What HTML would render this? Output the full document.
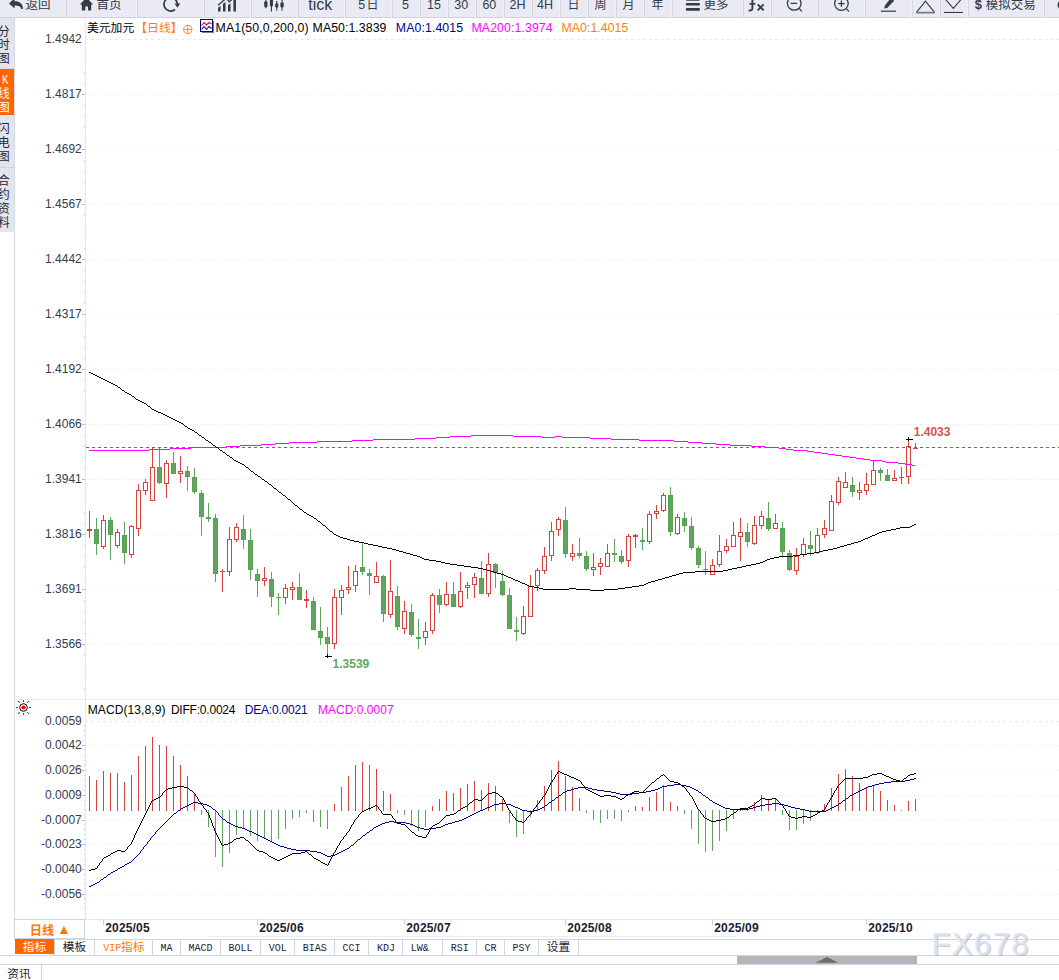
<!DOCTYPE html>
<html><head><meta charset="utf-8"><title>USDCAD</title><style>html,body{margin:0;padding:0;background:#fff}</style></head><body>
<svg width="1059" height="980" viewBox="0 0 1059 980" style="display:block">
<rect x="0" y="0" width="1059" height="980" fill="#fff" />
<g shape-rendering="crispEdges">
<rect x="0" y="0" width="1059" height="17" fill="#e9eaf4" />
<rect x="0" y="17" width="1059" height="1" fill="#d0d1db" />
<rect x="65" y="0" width="1" height="18" fill="#f0f1f7" />
<rect x="66" y="0" width="1" height="17" fill="#d4d5de" />
<rect x="136" y="0" width="1" height="18" fill="#f0f1f7" />
<rect x="137" y="0" width="1" height="17" fill="#d4d5de" />
<rect x="203" y="0" width="1" height="18" fill="#f0f1f7" />
<rect x="204" y="0" width="1" height="17" fill="#d4d5de" />
<rect x="250" y="0" width="1" height="18" fill="#f0f1f7" />
<rect x="251" y="0" width="1" height="17" fill="#d4d5de" />
<rect x="297" y="0" width="1" height="18" fill="#f0f1f7" />
<rect x="298" y="0" width="1" height="17" fill="#d4d5de" />
<rect x="344" y="0" width="1" height="18" fill="#f0f1f7" />
<rect x="345" y="0" width="1" height="17" fill="#d4d5de" />
<rect x="391" y="0" width="1" height="18" fill="#f0f1f7" />
<rect x="392" y="0" width="1" height="17" fill="#d4d5de" />
<rect x="419" y="0" width="1" height="18" fill="#f0f1f7" />
<rect x="420" y="0" width="1" height="17" fill="#d4d5de" />
<rect x="447" y="0" width="1" height="18" fill="#f0f1f7" />
<rect x="448" y="0" width="1" height="17" fill="#d4d5de" />
<rect x="475" y="0" width="1" height="18" fill="#f0f1f7" />
<rect x="476" y="0" width="1" height="17" fill="#d4d5de" />
<rect x="503" y="0" width="1" height="18" fill="#f0f1f7" />
<rect x="504" y="0" width="1" height="17" fill="#d4d5de" />
<rect x="531" y="0" width="1" height="18" fill="#f0f1f7" />
<rect x="532" y="0" width="1" height="17" fill="#d4d5de" />
<rect x="559" y="0" width="1" height="18" fill="#f0f1f7" />
<rect x="560" y="0" width="1" height="17" fill="#d4d5de" />
<rect x="587" y="0" width="1" height="18" fill="#f0f1f7" />
<rect x="588" y="0" width="1" height="17" fill="#d4d5de" />
<rect x="615" y="0" width="1" height="18" fill="#f0f1f7" />
<rect x="616" y="0" width="1" height="17" fill="#d4d5de" />
<rect x="643" y="0" width="1" height="18" fill="#f0f1f7" />
<rect x="644" y="0" width="1" height="17" fill="#d4d5de" />
<rect x="671" y="0" width="1" height="18" fill="#f0f1f7" />
<rect x="672" y="0" width="1" height="17" fill="#d4d5de" />
<rect x="742" y="0" width="1" height="18" fill="#f0f1f7" />
<rect x="743" y="0" width="1" height="17" fill="#d4d5de" />
<rect x="770" y="0" width="1" height="18" fill="#f0f1f7" />
<rect x="771" y="0" width="1" height="17" fill="#d4d5de" />
<rect x="817" y="0" width="1" height="18" fill="#f0f1f7" />
<rect x="818" y="0" width="1" height="17" fill="#d4d5de" />
<rect x="864" y="0" width="1" height="18" fill="#f0f1f7" />
<rect x="865" y="0" width="1" height="17" fill="#d4d5de" />
<rect x="911" y="0" width="1" height="18" fill="#f0f1f7" />
<rect x="912" y="0" width="1" height="17" fill="#d4d5de" />
<rect x="939" y="0" width="1" height="18" fill="#f0f1f7" />
<rect x="940" y="0" width="1" height="17" fill="#d4d5de" />
<rect x="967" y="0" width="1" height="18" fill="#f0f1f7" />
<rect x="968" y="0" width="1" height="17" fill="#d4d5de" />
<rect x="1043" y="0" width="1" height="18" fill="#f0f1f7" />
<rect x="1044" y="0" width="1" height="17" fill="#d4d5de" />
</g>
<g>
<path d="M9,3.4 L14.6,-1.8 L14.6,1.3 C19.8,1.3 23,4 22.9,9 L21.2,9 C20.8,6.4 18.8,5.4 14.6,5.4 L14.6,8.4 Z" fill="#333c46"/>
<text x="25.4" y="8.8" font-family="'Liberation Sans', 'Noto Sans CJK SC', sans-serif" font-size="12.5" fill="#333c46">返回</text>
<path d="M79.8,4.4 L86.5,-2.4 L93.2,4.4 L91.2,4.4 L91.2,10.6 L88,10.6 L88,6.6 L85.3,6.6 L85.3,10.6 L81.8,10.6 L81.8,4.4 Z" fill="#333c46"/>
<text x="96.5" y="8.8" font-family="'Liberation Sans', 'Noto Sans CJK SC', sans-serif" font-size="12.5" fill="#333c46">首页</text>
<path d="M175.0,9.5 A6.7,6.7 0 1 1 177.4,4.4" fill="none" stroke="#333c46" stroke-width="1.7"/>
<path d="M174.6,3.6 L180.2,3.6 L177.4,7.8 Z" fill="#333c46"/>
<path d="M218,7.8 L220.5,5.8 L220.5,11.5 L218,11.5 Z M223,3.8 L225.5,2 L225.5,11.5 L223,11.5 Z M228,5.2 L230.5,3.2 L230.5,11.5 L228,11.5 Z M233.4,0 L236,-1 L236,11.5 L233.4,11.5 Z" fill="#333c46"/>
<path d="M218,5.2 L226.5,-2 L229.2,1.8 L235,-3" fill="none" stroke="#333c46" stroke-width="1.3"/>
<g fill="#333c46"><rect x="264.2" y="1.2" width="3.3" height="6" rx="1.2"/><rect x="265.3" y="0" width="1.1" height="8.2"/><rect x="269.9" y="-3" width="3.1" height="9.2" rx="0.6"/><rect x="270.9" y="-3" width="1.1" height="14.6"/><rect x="275.2" y="3.4" width="3.1" height="4.2" rx="0.8"/><rect x="276.2" y="1" width="1.1" height="9.7"/><rect x="280.4" y="2.6" width="3.3" height="4.8" rx="0.8"/><rect x="281.5" y="-1" width="1.1" height="11.7"/></g>
<text x="308.3" y="9.5" font-family="'Liberation Sans', sans-serif" font-size="16" fill="#333c46">tick</text>
<text x="358.3" y="8.5" font-family="'Liberation Sans', 'Noto Sans CJK SC', sans-serif" font-size="12.5" fill="#333c46">5</text>
<text x="366.4" y="8.6" font-family="'Liberation Sans', 'Noto Sans CJK SC', sans-serif" font-size="12" fill="#333c46">日</text>
<text x="402" y="8.5" font-family="'Liberation Sans', sans-serif" font-size="12.5" fill="#333c46">5</text>
<text x="427.1" y="8.5" font-family="'Liberation Sans', sans-serif" font-size="12.5" fill="#333c46">15</text>
<text x="454.3" y="8.5" font-family="'Liberation Sans', sans-serif" font-size="12.5" fill="#333c46">30</text>
<text x="482.4" y="8.5" font-family="'Liberation Sans', sans-serif" font-size="12.5" fill="#333c46">60</text>
<text x="509.6" y="8.5" font-family="'Liberation Sans', sans-serif" font-size="12.5" fill="#333c46">2H</text>
<text x="537" y="8.5" font-family="'Liberation Sans', sans-serif" font-size="12.5" fill="#333c46">4H</text>
<text x="567.4" y="8.6" font-family="'Liberation Sans', 'Noto Sans CJK SC', sans-serif" font-size="12" fill="#333c46">日</text>
<text x="594.6" y="8.8" font-family="'Liberation Sans', 'Noto Sans CJK SC', sans-serif" font-size="12" fill="#333c46">周</text>
<text x="622.4" y="8.8" font-family="'Liberation Sans', 'Noto Sans CJK SC', sans-serif" font-size="12" fill="#333c46">月</text>
<text x="651.4" y="8.8" font-family="'Liberation Sans', 'Noto Sans CJK SC', sans-serif" font-size="12" fill="#333c46">年</text>
<g fill="#333c46"><rect x="685.8" y="-2" width="14.2" height="2.8" rx="1.3"/><rect x="685.8" y="3" width="14.2" height="2.6" rx="1.3"/><rect x="685.8" y="8" width="14.2" height="2.7" rx="1.3"/></g>
<text x="703.6" y="8.8" font-family="'Liberation Sans', 'Noto Sans CJK SC', sans-serif" font-size="12.5" fill="#333c46">更多</text>
<path d="M755.6,-1.2 C753.2,-1.6 752.4,-0.6 752.4,1 L752.4,8.4 C752.4,10 751.2,10.8 748.6,10.4 M749.6,3.9 L755.4,3.9" fill="none" stroke="#333c46" stroke-width="1.9"/>
<path d="M757.7,4.4 L763.6,10.3 M763.6,4.4 L757.7,10.3" fill="none" stroke="#333c46" stroke-width="1.9"/>
<g fill="none" stroke="#333c46" stroke-width="1.3"><circle cx="794.2" cy="3.4" r="6.8"/><path d="M799.2,8.4 L801.8,11.4 M790.6,3.4 L797.2,3.4"/></g>
<g fill="none" stroke="#333c46" stroke-width="1.3"><circle cx="841.4" cy="3.6" r="6.8"/><path d="M846.4,8.6 L849,11.6 M838.2,3.6 L844.6,3.6 M841.4,0.4 L841.4,6.8"/></g>
<path d="M884.2,8.6 L884.9,5.6 L890.5,-1.5 L894,-1.5 L893.6,1.2 L887.2,8 Z" fill="#333c46"/>
<rect x="880.9" y="10.6" width="15" height="1.2" fill="#333c46"/>
<path d="M916.6,12.2 L925.5,1.2 L934.4,12.2" fill="none" stroke="#333c46" stroke-width="1.1"/>
<rect x="916" y="11.8" width="19" height="1.7" fill="#747a84"/>
<path d="M945.6,-0.5 L953.3,8.4 L961,-0.5" fill="none" stroke="#333c46" stroke-width="1.1"/>
<rect x="944" y="11.9" width="19" height="1.1" fill="#333c46"/>
<text x="974.8" y="9.4" font-family="'Liberation Sans', sans-serif" font-size="13" font-weight="bold" fill="#333c46">$</text>
<text x="985.7" y="8.7" font-family="'Liberation Sans', 'Noto Sans CJK SC', sans-serif" font-size="12.5" fill="#333c46">模拟交易</text>
<circle cx="1061.5" cy="5" r="4" fill="#333c46"/>
</g>
<g shape-rendering="crispEdges">
<rect x="0" y="18" width="14" height="214" fill="#e3e4ec" />
<rect x="0" y="69" width="14" height="46" fill="#ff6600" />
<rect x="0" y="167" width="14" height="1" fill="#cfd0d8" />
<rect x="0" y="68" width="14" height="1" fill="#d8d9e0" />
<rect x="14" y="18" width="1" height="921" fill="#d2dae4" />
</g>
<text x="-2.3" y="35.5" font-family="'Liberation Sans', 'Noto Sans CJK SC', sans-serif" font-size="12" fill="#232a34">分</text>
<text x="-2.3" y="49" font-family="'Liberation Sans', 'Noto Sans CJK SC', sans-serif" font-size="12" fill="#232a34">时</text>
<text x="-2.3" y="63" font-family="'Liberation Sans', 'Noto Sans CJK SC', sans-serif" font-size="12" fill="#232a34">图</text>
<text x="2.0" y="84" font-family="Liberation Mono" font-size="12" fill="#fff" textLength="6.4" lengthAdjust="spacingAndGlyphs" >K</text>
<text x="-2.3" y="98" font-family="'Liberation Sans', 'Noto Sans CJK SC', sans-serif" font-size="12" fill="#fff">线</text>
<text x="-2.3" y="112" font-family="'Liberation Sans', 'Noto Sans CJK SC', sans-serif" font-size="12" fill="#fff">图</text>
<text x="-2.3" y="133" font-family="'Liberation Sans', 'Noto Sans CJK SC', sans-serif" font-size="12" fill="#232a34">闪</text>
<text x="-2.3" y="147" font-family="'Liberation Sans', 'Noto Sans CJK SC', sans-serif" font-size="12" fill="#232a34">电</text>
<text x="-2.3" y="161" font-family="'Liberation Sans', 'Noto Sans CJK SC', sans-serif" font-size="12" fill="#232a34">图</text>
<text x="-2.3" y="184.8" font-family="'Liberation Sans', 'Noto Sans CJK SC', sans-serif" font-size="12" fill="#232a34">合</text>
<text x="-2.3" y="199.2" font-family="'Liberation Sans', 'Noto Sans CJK SC', sans-serif" font-size="12" fill="#232a34">约</text>
<text x="-2.3" y="213.3" font-family="'Liberation Sans', 'Noto Sans CJK SC', sans-serif" font-size="12" fill="#232a34">资</text>
<text x="-2.3" y="227.2" font-family="'Liberation Sans', 'Noto Sans CJK SC', sans-serif" font-size="12" fill="#232a34">料</text>
<g shape-rendering="crispEdges">
<rect x="85" y="18" width="1" height="901" fill="#e1e8ef" />
<rect x="15" y="699" width="1044" height="1" fill="#e9eef3" />
<rect x="15" y="919" width="1044" height="1" fill="#e2e8ee" />
</g>
<g shape-rendering="crispEdges">
<line x1="85" x2="1059" y1="39.5" y2="39.5" stroke="#e2ebf0" stroke-width="1" stroke-dasharray="3 3"/>
<line x1="86" x2="1059" y1="94.5" y2="94.5" stroke="#e6ecf1" stroke-width="1" stroke-dasharray="1 2"/>
<rect x="82" y="94" width="3" height="1" fill="#b4bcc6" />
<line x1="86" x2="1059" y1="149.5" y2="149.5" stroke="#e6ecf1" stroke-width="1" stroke-dasharray="1 2"/>
<rect x="82" y="149" width="3" height="1" fill="#b4bcc6" />
<line x1="86" x2="1059" y1="204.5" y2="204.5" stroke="#e6ecf1" stroke-width="1" stroke-dasharray="1 2"/>
<rect x="82" y="204" width="3" height="1" fill="#b4bcc6" />
<line x1="86" x2="1059" y1="259.5" y2="259.5" stroke="#e6ecf1" stroke-width="1" stroke-dasharray="1 2"/>
<rect x="82" y="259" width="3" height="1" fill="#b4bcc6" />
<line x1="86" x2="1059" y1="314.5" y2="314.5" stroke="#e6ecf1" stroke-width="1" stroke-dasharray="1 2"/>
<rect x="82" y="314" width="3" height="1" fill="#b4bcc6" />
<line x1="86" x2="1059" y1="369.5" y2="369.5" stroke="#e6ecf1" stroke-width="1" stroke-dasharray="1 2"/>
<rect x="82" y="369" width="3" height="1" fill="#b4bcc6" />
<line x1="86" x2="1059" y1="424.5" y2="424.5" stroke="#e6ecf1" stroke-width="1" stroke-dasharray="1 2"/>
<rect x="82" y="424" width="3" height="1" fill="#b4bcc6" />
<line x1="86" x2="1059" y1="479.5" y2="479.5" stroke="#e6ecf1" stroke-width="1" stroke-dasharray="1 2"/>
<rect x="82" y="479" width="3" height="1" fill="#b4bcc6" />
<line x1="86" x2="1059" y1="534.5" y2="534.5" stroke="#e6ecf1" stroke-width="1" stroke-dasharray="1 2"/>
<rect x="82" y="534" width="3" height="1" fill="#b4bcc6" />
<line x1="86" x2="1059" y1="589.5" y2="589.5" stroke="#e6ecf1" stroke-width="1" stroke-dasharray="1 2"/>
<rect x="82" y="589" width="3" height="1" fill="#b4bcc6" />
<line x1="86" x2="1059" y1="644.5" y2="644.5" stroke="#e6ecf1" stroke-width="1" stroke-dasharray="1 2"/>
<rect x="82" y="644" width="3" height="1" fill="#b4bcc6" />
<rect x="84" y="50" width="1" height="1" fill="#c6ced8" />
<rect x="84" y="61" width="1" height="1" fill="#c6ced8" />
<rect x="84" y="72" width="1" height="1" fill="#c6ced8" />
<rect x="84" y="83" width="1" height="1" fill="#c6ced8" />
<rect x="84" y="105" width="1" height="1" fill="#c6ced8" />
<rect x="84" y="116" width="1" height="1" fill="#c6ced8" />
<rect x="84" y="127" width="1" height="1" fill="#c6ced8" />
<rect x="84" y="138" width="1" height="1" fill="#c6ced8" />
<rect x="84" y="160" width="1" height="1" fill="#c6ced8" />
<rect x="84" y="171" width="1" height="1" fill="#c6ced8" />
<rect x="84" y="182" width="1" height="1" fill="#c6ced8" />
<rect x="84" y="193" width="1" height="1" fill="#c6ced8" />
<rect x="84" y="215" width="1" height="1" fill="#c6ced8" />
<rect x="84" y="226" width="1" height="1" fill="#c6ced8" />
<rect x="84" y="237" width="1" height="1" fill="#c6ced8" />
<rect x="84" y="248" width="1" height="1" fill="#c6ced8" />
<rect x="84" y="270" width="1" height="1" fill="#c6ced8" />
<rect x="84" y="281" width="1" height="1" fill="#c6ced8" />
<rect x="84" y="292" width="1" height="1" fill="#c6ced8" />
<rect x="84" y="303" width="1" height="1" fill="#c6ced8" />
<rect x="84" y="325" width="1" height="1" fill="#c6ced8" />
<rect x="84" y="336" width="1" height="1" fill="#c6ced8" />
<rect x="84" y="347" width="1" height="1" fill="#c6ced8" />
<rect x="84" y="358" width="1" height="1" fill="#c6ced8" />
<rect x="84" y="380" width="1" height="1" fill="#c6ced8" />
<rect x="84" y="391" width="1" height="1" fill="#c6ced8" />
<rect x="84" y="402" width="1" height="1" fill="#c6ced8" />
<rect x="84" y="413" width="1" height="1" fill="#c6ced8" />
<rect x="84" y="435" width="1" height="1" fill="#c6ced8" />
<rect x="84" y="446" width="1" height="1" fill="#c6ced8" />
<rect x="84" y="457" width="1" height="1" fill="#c6ced8" />
<rect x="84" y="468" width="1" height="1" fill="#c6ced8" />
<rect x="84" y="490" width="1" height="1" fill="#c6ced8" />
<rect x="84" y="501" width="1" height="1" fill="#c6ced8" />
<rect x="84" y="512" width="1" height="1" fill="#c6ced8" />
<rect x="84" y="523" width="1" height="1" fill="#c6ced8" />
<rect x="84" y="545" width="1" height="1" fill="#c6ced8" />
<rect x="84" y="556" width="1" height="1" fill="#c6ced8" />
<rect x="84" y="567" width="1" height="1" fill="#c6ced8" />
<rect x="84" y="578" width="1" height="1" fill="#c6ced8" />
<rect x="84" y="600" width="1" height="1" fill="#c6ced8" />
<rect x="84" y="611" width="1" height="1" fill="#c6ced8" />
<rect x="84" y="622" width="1" height="1" fill="#c6ced8" />
<rect x="84" y="633" width="1" height="1" fill="#c6ced8" />
<rect x="84" y="655" width="1" height="1" fill="#c6ced8" />
<rect x="84" y="666" width="1" height="1" fill="#c6ced8" />
<rect x="84" y="677" width="1" height="1" fill="#c6ced8" />
<rect x="84" y="688" width="1" height="1" fill="#c6ced8" />
</g>
<text x="81.8" y="43" font-family="Liberation Sans" font-size="12" fill="#343c50" text-anchor="end" >1.4942</text>
<text x="81.8" y="98" font-family="Liberation Sans" font-size="12" fill="#343c50" text-anchor="end" >1.4817</text>
<text x="81.8" y="153" font-family="Liberation Sans" font-size="12" fill="#343c50" text-anchor="end" >1.4692</text>
<text x="81.8" y="208" font-family="Liberation Sans" font-size="12" fill="#343c50" text-anchor="end" >1.4567</text>
<text x="81.8" y="263" font-family="Liberation Sans" font-size="12" fill="#343c50" text-anchor="end" >1.4442</text>
<text x="81.8" y="318" font-family="Liberation Sans" font-size="12" fill="#343c50" text-anchor="end" >1.4317</text>
<text x="81.8" y="373" font-family="Liberation Sans" font-size="12" fill="#343c50" text-anchor="end" >1.4192</text>
<text x="81.8" y="428" font-family="Liberation Sans" font-size="12" fill="#343c50" text-anchor="end" >1.4066</text>
<text x="81.8" y="483" font-family="Liberation Sans" font-size="12" fill="#343c50" text-anchor="end" >1.3941</text>
<text x="81.8" y="538" font-family="Liberation Sans" font-size="12" fill="#343c50" text-anchor="end" >1.3816</text>
<text x="81.8" y="593" font-family="Liberation Sans" font-size="12" fill="#343c50" text-anchor="end" >1.3691</text>
<text x="81.8" y="648" font-family="Liberation Sans" font-size="12" fill="#343c50" text-anchor="end" >1.3566</text>
<g shape-rendering="crispEdges">
<line x1="85" x2="1059" y1="721.5" y2="721.5" stroke="#e2ebf0" stroke-width="1" stroke-dasharray="3 3"/>
<line x1="86" x2="1059" y1="745.5" y2="745.5" stroke="#e6ecf1" stroke-width="1" stroke-dasharray="1 2"/>
<rect x="82" y="745" width="3" height="1" fill="#b4bcc6" />
<line x1="86" x2="1059" y1="770.5" y2="770.5" stroke="#e6ecf1" stroke-width="1" stroke-dasharray="1 2"/>
<rect x="82" y="770" width="3" height="1" fill="#b4bcc6" />
<line x1="86" x2="1059" y1="795.5" y2="795.5" stroke="#e6ecf1" stroke-width="1" stroke-dasharray="1 2"/>
<rect x="82" y="795" width="3" height="1" fill="#b4bcc6" />
<line x1="86" x2="1059" y1="820.5" y2="820.5" stroke="#e6ecf1" stroke-width="1" stroke-dasharray="1 2"/>
<rect x="82" y="820" width="3" height="1" fill="#b4bcc6" />
<line x1="86" x2="1059" y1="844.5" y2="844.5" stroke="#e6ecf1" stroke-width="1" stroke-dasharray="1 2"/>
<rect x="82" y="844" width="3" height="1" fill="#b4bcc6" />
<line x1="86" x2="1059" y1="869.5" y2="869.5" stroke="#e6ecf1" stroke-width="1" stroke-dasharray="1 2"/>
<rect x="82" y="869" width="3" height="1" fill="#b4bcc6" />
<line x1="86" x2="1059" y1="894.5" y2="894.5" stroke="#e6ecf1" stroke-width="1" stroke-dasharray="1 2"/>
<rect x="82" y="894" width="3" height="1" fill="#b4bcc6" />
<rect x="84" y="725" width="1" height="1" fill="#c6ced8" />
<rect x="84" y="730" width="1" height="1" fill="#c6ced8" />
<rect x="84" y="735" width="1" height="1" fill="#c6ced8" />
<rect x="84" y="740" width="1" height="1" fill="#c6ced8" />
<rect x="84" y="750" width="1" height="1" fill="#c6ced8" />
<rect x="84" y="755" width="1" height="1" fill="#c6ced8" />
<rect x="84" y="760" width="1" height="1" fill="#c6ced8" />
<rect x="84" y="765" width="1" height="1" fill="#c6ced8" />
<rect x="84" y="775" width="1" height="1" fill="#c6ced8" />
<rect x="84" y="780" width="1" height="1" fill="#c6ced8" />
<rect x="84" y="785" width="1" height="1" fill="#c6ced8" />
<rect x="84" y="790" width="1" height="1" fill="#c6ced8" />
<rect x="84" y="800" width="1" height="1" fill="#c6ced8" />
<rect x="84" y="804" width="1" height="1" fill="#c6ced8" />
<rect x="84" y="809" width="1" height="1" fill="#c6ced8" />
<rect x="84" y="814" width="1" height="1" fill="#c6ced8" />
<rect x="84" y="824" width="1" height="1" fill="#c6ced8" />
<rect x="84" y="829" width="1" height="1" fill="#c6ced8" />
<rect x="84" y="834" width="1" height="1" fill="#c6ced8" />
<rect x="84" y="839" width="1" height="1" fill="#c6ced8" />
<rect x="84" y="849" width="1" height="1" fill="#c6ced8" />
<rect x="84" y="854" width="1" height="1" fill="#c6ced8" />
<rect x="84" y="859" width="1" height="1" fill="#c6ced8" />
<rect x="84" y="864" width="1" height="1" fill="#c6ced8" />
<rect x="84" y="874" width="1" height="1" fill="#c6ced8" />
<rect x="84" y="879" width="1" height="1" fill="#c6ced8" />
<rect x="84" y="884" width="1" height="1" fill="#c6ced8" />
<rect x="84" y="888" width="1" height="1" fill="#c6ced8" />
<rect x="84" y="898" width="1" height="1" fill="#c6ced8" />
<rect x="84" y="903" width="1" height="1" fill="#c6ced8" />
<rect x="84" y="908" width="1" height="1" fill="#c6ced8" />
<rect x="84" y="913" width="1" height="1" fill="#c6ced8" />
</g>
<text x="81.8" y="725" font-family="Liberation Sans" font-size="12" fill="#343c50" text-anchor="end" >0.0059</text>
<text x="81.8" y="749" font-family="Liberation Sans" font-size="12" fill="#343c50" text-anchor="end" >0.0042</text>
<text x="81.8" y="774" font-family="Liberation Sans" font-size="12" fill="#343c50" text-anchor="end" >0.0026</text>
<text x="81.8" y="799" font-family="Liberation Sans" font-size="12" fill="#343c50" text-anchor="end" >0.0009</text>
<text x="81.8" y="824" font-family="Liberation Sans" font-size="12" fill="#343c50" text-anchor="end" >-0.0007</text>
<text x="81.8" y="848" font-family="Liberation Sans" font-size="12" fill="#343c50" text-anchor="end" >-0.0023</text>
<text x="81.8" y="873" font-family="Liberation Sans" font-size="12" fill="#343c50" text-anchor="end" >-0.0040</text>
<text x="81.8" y="898" font-family="Liberation Sans" font-size="12" fill="#343c50" text-anchor="end" >-0.0056</text>
<text x="87" y="31.8" font-family="'Liberation Sans', 'Noto Sans CJK SC', sans-serif" font-size="11.8" fill="#000">美元加元</text>
<text x="135.3" y="31.8" font-family="'Liberation Sans', 'Noto Sans CJK SC', sans-serif" font-size="11.8" fill="#ff7a0a">【日线】</text>
<g fill="none" stroke="#ff7f1a" stroke-width="0.9"><circle cx="187.8" cy="29.4" r="4.1"/><path d="M183.7,29.4 L191.9,29.4 M187.8,25.3 L187.8,33.5"/></g>
<g shape-rendering="crispEdges"><rect x="200.5" y="19.5" width="12" height="12" fill="#fff" stroke="#000080" stroke-width="1"/><rect x="202" y="32" width="11" height="1" fill="#7a7aa0"/><rect x="213" y="21" width="1" height="12" fill="#7a7aa0"/></g>
<path d="M201.5,25.5 L204,22.5 L206.5,25 L209,22.5 L211.5,24" fill="none" stroke="#ff0000" stroke-width="1.1"/>
<path d="M201.5,29.5 L204,26.5 L206.5,29.5 L209,26.5 L211.5,28.5" fill="none" stroke="#0000ff" stroke-width="1.1"/>
<text x="215.6" y="31.7" font-family="Liberation Sans" font-size="12.3" fill="#000" textLength="92.9" lengthAdjust="spacing" >MA1(50,0,200,0)</text>
<text x="312.6" y="31.7" font-family="Liberation Sans" font-size="12.3" fill="#000" textLength="73.8" lengthAdjust="spacing" >MA50:1.3839</text>
<text x="395.8" y="31.7" font-family="Liberation Sans" font-size="12.3" fill="#00008b" textLength="67.3" lengthAdjust="spacing" >MA0:1.4015</text>
<text x="471.5" y="31.7" font-family="Liberation Sans" font-size="12.3" fill="#ff00ff" textLength="81.1" lengthAdjust="spacing" >MA200:1.3974</text>
<text x="561.5" y="31.7" font-family="Liberation Sans" font-size="12.3" fill="#ff8000" textLength="66.8" lengthAdjust="spacing" >MA0:1.4015</text>
<g shape-rendering="crispEdges">
<rect x="89" y="511" width="1" height="27" fill="#d6433d" />
<rect x="87" y="529" width="5" height="2" fill="#d6433d" />
<rect x="96" y="518" width="1" height="37" fill="#5fa55b" />
<rect x="94" y="529" width="5" height="15" fill="#5fa55b" />
<rect x="94.5" y="529.5" width="4" height="14" fill="none" stroke="#58a054" stroke-width="1"/>
<rect x="103" y="515" width="1" height="5" fill="#d6433d" />
<rect x="103" y="547" width="1" height="2" fill="#d6433d" />
<rect x="101.5" y="520.5" width="4" height="26" fill="#fff" stroke="#d6433d" stroke-width="1"/>
<rect x="110" y="517" width="1" height="43" fill="#5fa55b" />
<rect x="108" y="520" width="5" height="15" fill="#5fa55b" />
<rect x="108.5" y="520.5" width="4" height="14" fill="none" stroke="#58a054" stroke-width="1"/>
<rect x="117" y="529" width="1" height="3" fill="#d6433d" />
<rect x="117" y="546" width="1" height="2" fill="#d6433d" />
<rect x="115.5" y="532.5" width="4" height="13" fill="#fff" stroke="#d6433d" stroke-width="1"/>
<rect x="124" y="522" width="1" height="42" fill="#5fa55b" />
<rect x="122" y="535" width="5" height="18" fill="#5fa55b" />
<rect x="122.5" y="535.5" width="4" height="17" fill="none" stroke="#58a054" stroke-width="1"/>
<rect x="131" y="525" width="1" height="1" fill="#d6433d" />
<rect x="131" y="555" width="1" height="3" fill="#d6433d" />
<rect x="129.5" y="526.5" width="4" height="28" fill="#fff" stroke="#d6433d" stroke-width="1"/>
<rect x="138" y="484" width="1" height="6" fill="#d6433d" />
<rect x="138" y="529" width="1" height="7" fill="#d6433d" />
<rect x="136.5" y="490.5" width="4" height="38" fill="#fff" stroke="#d6433d" stroke-width="1"/>
<rect x="145" y="479" width="1" height="3" fill="#d6433d" />
<rect x="145" y="491" width="1" height="4" fill="#d6433d" />
<rect x="143.5" y="482.5" width="4" height="8" fill="#fff" stroke="#d6433d" stroke-width="1"/>
<rect x="152" y="448" width="1" height="19" fill="#d6433d" />
<rect x="150.5" y="467.5" width="4" height="33" fill="#fff" stroke="#d6433d" stroke-width="1"/>
<rect x="159" y="448" width="1" height="36" fill="#5fa55b" />
<rect x="157" y="467" width="5" height="16" fill="#5fa55b" />
<rect x="157.5" y="467.5" width="4" height="15" fill="none" stroke="#58a054" stroke-width="1"/>
<rect x="166" y="460" width="1" height="3" fill="#d6433d" />
<rect x="166" y="484" width="1" height="14" fill="#d6433d" />
<rect x="164.5" y="463.5" width="4" height="20" fill="#fff" stroke="#d6433d" stroke-width="1"/>
<rect x="173" y="452" width="1" height="22" fill="#5fa55b" />
<rect x="171" y="463" width="5" height="11" fill="#5fa55b" />
<rect x="171.5" y="463.5" width="4" height="10" fill="none" stroke="#58a054" stroke-width="1"/>
<rect x="180" y="456" width="1" height="15" fill="#d6433d" />
<rect x="180" y="474" width="1" height="9" fill="#d6433d" />
<rect x="178.5" y="471.5" width="4" height="2" fill="#fff" stroke="#d6433d" stroke-width="1"/>
<rect x="187" y="466" width="1" height="25" fill="#5fa55b" />
<rect x="185" y="471" width="5" height="6" fill="#5fa55b" />
<rect x="185.5" y="471.5" width="4" height="5" fill="none" stroke="#58a054" stroke-width="1"/>
<rect x="194" y="468" width="1" height="26" fill="#5fa55b" />
<rect x="192" y="477" width="5" height="15" fill="#5fa55b" />
<rect x="192.5" y="477.5" width="4" height="14" fill="none" stroke="#58a054" stroke-width="1"/>
<rect x="201" y="490" width="1" height="46" fill="#5fa55b" />
<rect x="199" y="493" width="5" height="24" fill="#5fa55b" />
<rect x="199.5" y="493.5" width="4" height="23" fill="none" stroke="#58a054" stroke-width="1"/>
<rect x="208" y="503" width="1" height="19" fill="#5fa55b" />
<rect x="206" y="517" width="5" height="2" fill="#5fa55b" />
<rect x="215" y="514" width="1" height="68" fill="#5fa55b" />
<rect x="213" y="518" width="5" height="56" fill="#5fa55b" />
<rect x="213.5" y="518.5" width="4" height="55" fill="none" stroke="#58a054" stroke-width="1"/>
<rect x="222" y="569" width="1" height="23" fill="#d6433d" />
<rect x="220" y="571" width="5" height="1" fill="#d6433d" />
<rect x="229" y="527" width="1" height="12" fill="#d6433d" />
<rect x="229" y="572" width="1" height="4" fill="#d6433d" />
<rect x="227.5" y="539.5" width="4" height="32" fill="#fff" stroke="#d6433d" stroke-width="1"/>
<rect x="236" y="523" width="1" height="4" fill="#d6433d" />
<rect x="236" y="540" width="1" height="2" fill="#d6433d" />
<rect x="234.5" y="527.5" width="4" height="12" fill="#fff" stroke="#d6433d" stroke-width="1"/>
<rect x="243" y="515" width="1" height="34" fill="#5fa55b" />
<rect x="241" y="529" width="5" height="11" fill="#5fa55b" />
<rect x="241.5" y="529.5" width="4" height="10" fill="none" stroke="#58a054" stroke-width="1"/>
<rect x="250" y="529" width="1" height="51" fill="#5fa55b" />
<rect x="248" y="540" width="5" height="30" fill="#5fa55b" />
<rect x="248.5" y="540.5" width="4" height="29" fill="none" stroke="#58a054" stroke-width="1"/>
<rect x="257" y="569" width="1" height="28" fill="#5fa55b" />
<rect x="255" y="574" width="5" height="7" fill="#5fa55b" />
<rect x="255.5" y="574.5" width="4" height="6" fill="none" stroke="#58a054" stroke-width="1"/>
<rect x="264" y="567" width="1" height="11" fill="#d6433d" />
<rect x="264" y="581" width="1" height="5" fill="#d6433d" />
<rect x="262.5" y="578.5" width="4" height="2" fill="#fff" stroke="#d6433d" stroke-width="1"/>
<rect x="271" y="572" width="1" height="35" fill="#5fa55b" />
<rect x="269" y="579" width="5" height="18" fill="#5fa55b" />
<rect x="269.5" y="579.5" width="4" height="17" fill="none" stroke="#58a054" stroke-width="1"/>
<rect x="278" y="593" width="1" height="22" fill="#5fa55b" />
<rect x="276" y="597" width="5" height="1" fill="#5fa55b" />
<rect x="285" y="584" width="1" height="4" fill="#d6433d" />
<rect x="285" y="598" width="1" height="6" fill="#d6433d" />
<rect x="283.5" y="588.5" width="4" height="9" fill="#fff" stroke="#d6433d" stroke-width="1"/>
<rect x="292" y="582" width="1" height="5" fill="#d6433d" />
<rect x="292" y="590" width="1" height="10" fill="#d6433d" />
<rect x="290.5" y="587.5" width="4" height="2" fill="#fff" stroke="#d6433d" stroke-width="1"/>
<rect x="299" y="573" width="1" height="27" fill="#5fa55b" />
<rect x="297" y="587" width="5" height="13" fill="#5fa55b" />
<rect x="297.5" y="587.5" width="4" height="12" fill="none" stroke="#58a054" stroke-width="1"/>
<rect x="306" y="590" width="1" height="18" fill="#d6433d" />
<rect x="304" y="599" width="5" height="2" fill="#d6433d" />
<rect x="313" y="597" width="1" height="33" fill="#5fa55b" />
<rect x="311" y="601" width="5" height="29" fill="#5fa55b" />
<rect x="311.5" y="601.5" width="4" height="28" fill="none" stroke="#58a054" stroke-width="1"/>
<rect x="320" y="607" width="1" height="38" fill="#5fa55b" />
<rect x="318" y="631" width="5" height="7" fill="#5fa55b" />
<rect x="318.5" y="631.5" width="4" height="6" fill="none" stroke="#58a054" stroke-width="1"/>
<rect x="327" y="627" width="1" height="29" fill="#5fa55b" />
<rect x="325" y="637" width="5" height="7" fill="#5fa55b" />
<rect x="325.5" y="637.5" width="4" height="6" fill="none" stroke="#58a054" stroke-width="1"/>
<rect x="334" y="589" width="1" height="8" fill="#d6433d" />
<rect x="334" y="644" width="1" height="5" fill="#d6433d" />
<rect x="332.5" y="597.5" width="4" height="46" fill="#fff" stroke="#d6433d" stroke-width="1"/>
<rect x="341" y="585" width="1" height="5" fill="#d6433d" />
<rect x="341" y="598" width="1" height="17" fill="#d6433d" />
<rect x="339.5" y="590.5" width="4" height="7" fill="#fff" stroke="#d6433d" stroke-width="1"/>
<rect x="348" y="566" width="1" height="21" fill="#d6433d" />
<rect x="348" y="590" width="1" height="4" fill="#d6433d" />
<rect x="346.5" y="587.5" width="4" height="2" fill="#fff" stroke="#d6433d" stroke-width="1"/>
<rect x="355" y="565" width="1" height="6" fill="#d6433d" />
<rect x="355" y="586" width="1" height="6" fill="#d6433d" />
<rect x="353.5" y="571.5" width="4" height="14" fill="#fff" stroke="#d6433d" stroke-width="1"/>
<rect x="362" y="543" width="1" height="32" fill="#5fa55b" />
<rect x="360" y="567" width="5" height="5" fill="#5fa55b" />
<rect x="360.5" y="567.5" width="4" height="4" fill="none" stroke="#58a054" stroke-width="1"/>
<rect x="369" y="569" width="1" height="26" fill="#5fa55b" />
<rect x="367" y="573" width="5" height="3" fill="#5fa55b" />
<rect x="367.5" y="573.5" width="4" height="2" fill="none" stroke="#58a054" stroke-width="1"/>
<rect x="376" y="562" width="1" height="14" fill="#d6433d" />
<rect x="374.5" y="576.5" width="4" height="6" fill="#fff" stroke="#d6433d" stroke-width="1"/>
<rect x="383" y="575" width="1" height="47" fill="#5fa55b" />
<rect x="381" y="576" width="5" height="38" fill="#5fa55b" />
<rect x="381.5" y="576.5" width="4" height="37" fill="none" stroke="#58a054" stroke-width="1"/>
<rect x="390" y="560" width="1" height="31" fill="#d6433d" />
<rect x="390" y="615" width="1" height="3" fill="#d6433d" />
<rect x="388.5" y="591.5" width="4" height="23" fill="#fff" stroke="#d6433d" stroke-width="1"/>
<rect x="397" y="586" width="1" height="44" fill="#5fa55b" />
<rect x="395" y="596" width="5" height="31" fill="#5fa55b" />
<rect x="395.5" y="596.5" width="4" height="30" fill="none" stroke="#58a054" stroke-width="1"/>
<rect x="404" y="601" width="1" height="10" fill="#d6433d" />
<rect x="404" y="629" width="1" height="5" fill="#d6433d" />
<rect x="402.5" y="611.5" width="4" height="17" fill="#fff" stroke="#d6433d" stroke-width="1"/>
<rect x="411" y="604" width="1" height="33" fill="#5fa55b" />
<rect x="409" y="612" width="5" height="23" fill="#5fa55b" />
<rect x="409.5" y="612.5" width="4" height="22" fill="none" stroke="#58a054" stroke-width="1"/>
<rect x="418" y="619" width="1" height="30" fill="#5fa55b" />
<rect x="416" y="637" width="5" height="2" fill="#5fa55b" />
<rect x="425" y="622" width="1" height="9" fill="#d6433d" />
<rect x="425" y="638" width="1" height="7" fill="#d6433d" />
<rect x="423.5" y="631.5" width="4" height="6" fill="#fff" stroke="#d6433d" stroke-width="1"/>
<rect x="432" y="593" width="1" height="2" fill="#d6433d" />
<rect x="432" y="631" width="1" height="3" fill="#d6433d" />
<rect x="430.5" y="595.5" width="4" height="35" fill="#fff" stroke="#d6433d" stroke-width="1"/>
<rect x="439" y="589" width="1" height="24" fill="#5fa55b" />
<rect x="437" y="595" width="5" height="10" fill="#5fa55b" />
<rect x="437.5" y="595.5" width="4" height="9" fill="none" stroke="#58a054" stroke-width="1"/>
<rect x="446" y="582" width="1" height="12" fill="#d6433d" />
<rect x="446" y="605" width="1" height="1" fill="#d6433d" />
<rect x="444.5" y="594.5" width="4" height="10" fill="#fff" stroke="#d6433d" stroke-width="1"/>
<rect x="453" y="582" width="1" height="25" fill="#5fa55b" />
<rect x="451" y="594" width="5" height="13" fill="#5fa55b" />
<rect x="451.5" y="594.5" width="4" height="12" fill="none" stroke="#58a054" stroke-width="1"/>
<rect x="460" y="572" width="1" height="19" fill="#d6433d" />
<rect x="460" y="607" width="1" height="1" fill="#d6433d" />
<rect x="458.5" y="591.5" width="4" height="15" fill="#fff" stroke="#d6433d" stroke-width="1"/>
<rect x="467" y="582" width="1" height="3" fill="#d6433d" />
<rect x="467" y="588" width="1" height="11" fill="#d6433d" />
<rect x="465.5" y="585.5" width="4" height="2" fill="#fff" stroke="#d6433d" stroke-width="1"/>
<rect x="474" y="573" width="1" height="4" fill="#d6433d" />
<rect x="474" y="585" width="1" height="13" fill="#d6433d" />
<rect x="472.5" y="577.5" width="4" height="7" fill="#fff" stroke="#d6433d" stroke-width="1"/>
<rect x="481" y="561" width="1" height="33" fill="#5fa55b" />
<rect x="479" y="578" width="5" height="16" fill="#5fa55b" />
<rect x="479.5" y="578.5" width="4" height="15" fill="none" stroke="#58a054" stroke-width="1"/>
<rect x="488" y="553" width="1" height="11" fill="#d6433d" />
<rect x="488" y="594" width="1" height="3" fill="#d6433d" />
<rect x="486.5" y="564.5" width="4" height="29" fill="#fff" stroke="#d6433d" stroke-width="1"/>
<rect x="495" y="563" width="1" height="25" fill="#5fa55b" />
<rect x="493" y="564" width="5" height="9" fill="#5fa55b" />
<rect x="493.5" y="564.5" width="4" height="8" fill="none" stroke="#58a054" stroke-width="1"/>
<rect x="502" y="571" width="1" height="25" fill="#5fa55b" />
<rect x="500" y="581" width="5" height="14" fill="#5fa55b" />
<rect x="500.5" y="581.5" width="4" height="13" fill="none" stroke="#58a054" stroke-width="1"/>
<rect x="509" y="588" width="1" height="41" fill="#5fa55b" />
<rect x="507" y="595" width="5" height="34" fill="#5fa55b" />
<rect x="507.5" y="595.5" width="4" height="33" fill="none" stroke="#58a054" stroke-width="1"/>
<rect x="516" y="617" width="1" height="24" fill="#5fa55b" />
<rect x="514" y="630" width="5" height="2" fill="#5fa55b" />
<rect x="523" y="606" width="1" height="10" fill="#d6433d" />
<rect x="523" y="634" width="1" height="1" fill="#d6433d" />
<rect x="521.5" y="616.5" width="4" height="17" fill="#fff" stroke="#d6433d" stroke-width="1"/>
<rect x="530" y="575" width="1" height="11" fill="#d6433d" />
<rect x="528.5" y="586.5" width="4" height="30" fill="#fff" stroke="#d6433d" stroke-width="1"/>
<rect x="537" y="568" width="1" height="2" fill="#d6433d" />
<rect x="537" y="586" width="1" height="5" fill="#d6433d" />
<rect x="535.5" y="570.5" width="4" height="15" fill="#fff" stroke="#d6433d" stroke-width="1"/>
<rect x="544" y="547" width="1" height="9" fill="#d6433d" />
<rect x="544" y="571" width="1" height="3" fill="#d6433d" />
<rect x="542.5" y="556.5" width="4" height="14" fill="#fff" stroke="#d6433d" stroke-width="1"/>
<rect x="551" y="522" width="1" height="9" fill="#d6433d" />
<rect x="551" y="556" width="1" height="5" fill="#d6433d" />
<rect x="549.5" y="531.5" width="4" height="24" fill="#fff" stroke="#d6433d" stroke-width="1"/>
<rect x="558" y="517" width="1" height="2" fill="#d6433d" />
<rect x="558" y="530" width="1" height="6" fill="#d6433d" />
<rect x="556.5" y="519.5" width="4" height="10" fill="#fff" stroke="#d6433d" stroke-width="1"/>
<rect x="565" y="507" width="1" height="51" fill="#5fa55b" />
<rect x="563" y="520" width="5" height="34" fill="#5fa55b" />
<rect x="563.5" y="520.5" width="4" height="33" fill="none" stroke="#58a054" stroke-width="1"/>
<rect x="572" y="544" width="1" height="9" fill="#d6433d" />
<rect x="572" y="557" width="1" height="4" fill="#d6433d" />
<rect x="570.5" y="553.5" width="4" height="3" fill="#fff" stroke="#d6433d" stroke-width="1"/>
<rect x="579" y="538" width="1" height="20" fill="#5fa55b" />
<rect x="577" y="553" width="5" height="3" fill="#5fa55b" />
<rect x="577.5" y="553.5" width="4" height="2" fill="none" stroke="#58a054" stroke-width="1"/>
<rect x="586" y="551" width="1" height="20" fill="#5fa55b" />
<rect x="584" y="556" width="5" height="13" fill="#5fa55b" />
<rect x="584.5" y="556.5" width="4" height="12" fill="none" stroke="#58a054" stroke-width="1"/>
<rect x="593" y="553" width="1" height="14" fill="#d6433d" />
<rect x="593" y="570" width="1" height="6" fill="#d6433d" />
<rect x="591.5" y="567.5" width="4" height="2" fill="#fff" stroke="#d6433d" stroke-width="1"/>
<rect x="600" y="558" width="1" height="5" fill="#d6433d" />
<rect x="600" y="567" width="1" height="8" fill="#d6433d" />
<rect x="598.5" y="563.5" width="4" height="3" fill="#fff" stroke="#d6433d" stroke-width="1"/>
<rect x="607" y="544" width="1" height="9" fill="#d6433d" />
<rect x="605.5" y="553.5" width="4" height="13" fill="#fff" stroke="#d6433d" stroke-width="1"/>
<rect x="614" y="539" width="1" height="23" fill="#5fa55b" />
<rect x="612" y="553" width="5" height="2" fill="#5fa55b" />
<rect x="621" y="550" width="1" height="14" fill="#5fa55b" />
<rect x="619" y="556" width="5" height="6" fill="#5fa55b" />
<rect x="619.5" y="556.5" width="4" height="5" fill="none" stroke="#58a054" stroke-width="1"/>
<rect x="628" y="534" width="1" height="2" fill="#d6433d" />
<rect x="628" y="561" width="1" height="6" fill="#d6433d" />
<rect x="626.5" y="536.5" width="4" height="24" fill="#fff" stroke="#d6433d" stroke-width="1"/>
<rect x="635" y="534" width="1" height="14" fill="#d6433d" />
<rect x="633" y="535" width="5" height="2" fill="#d6433d" />
<rect x="642" y="528" width="1" height="22" fill="#5fa55b" />
<rect x="640" y="540" width="5" height="2" fill="#5fa55b" />
<rect x="649" y="511" width="1" height="3" fill="#d6433d" />
<rect x="649" y="542" width="1" height="2" fill="#d6433d" />
<rect x="647.5" y="514.5" width="4" height="27" fill="#fff" stroke="#d6433d" stroke-width="1"/>
<rect x="656" y="505" width="1" height="6" fill="#d6433d" />
<rect x="656" y="514" width="1" height="5" fill="#d6433d" />
<rect x="654.5" y="511.5" width="4" height="2" fill="#fff" stroke="#d6433d" stroke-width="1"/>
<rect x="663" y="493" width="1" height="2" fill="#d6433d" />
<rect x="663" y="511" width="1" height="1" fill="#d6433d" />
<rect x="661.5" y="495.5" width="4" height="15" fill="#fff" stroke="#d6433d" stroke-width="1"/>
<rect x="670" y="487" width="1" height="49" fill="#5fa55b" />
<rect x="668" y="495" width="5" height="37" fill="#5fa55b" />
<rect x="668.5" y="495.5" width="4" height="36" fill="none" stroke="#58a054" stroke-width="1"/>
<rect x="677" y="514" width="1" height="3" fill="#d6433d" />
<rect x="677" y="534" width="1" height="1" fill="#d6433d" />
<rect x="675.5" y="517.5" width="4" height="16" fill="#fff" stroke="#d6433d" stroke-width="1"/>
<rect x="684" y="512" width="1" height="20" fill="#5fa55b" />
<rect x="682" y="518" width="5" height="8" fill="#5fa55b" />
<rect x="682.5" y="518.5" width="4" height="7" fill="none" stroke="#58a054" stroke-width="1"/>
<rect x="691" y="517" width="1" height="33" fill="#5fa55b" />
<rect x="689" y="526" width="5" height="22" fill="#5fa55b" />
<rect x="689.5" y="526.5" width="4" height="21" fill="none" stroke="#58a054" stroke-width="1"/>
<rect x="698" y="546" width="1" height="22" fill="#5fa55b" />
<rect x="696" y="548" width="5" height="17" fill="#5fa55b" />
<rect x="696.5" y="548.5" width="4" height="16" fill="none" stroke="#58a054" stroke-width="1"/>
<rect x="705" y="551" width="1" height="24" fill="#5fa55b" />
<rect x="703" y="569" width="5" height="1" fill="#5fa55b" />
<rect x="712" y="559" width="1" height="6" fill="#d6433d" />
<rect x="710.5" y="565.5" width="4" height="9" fill="#fff" stroke="#d6433d" stroke-width="1"/>
<rect x="719" y="535" width="1" height="16" fill="#d6433d" />
<rect x="719" y="565" width="1" height="2" fill="#d6433d" />
<rect x="717.5" y="551.5" width="4" height="13" fill="#fff" stroke="#d6433d" stroke-width="1"/>
<rect x="726" y="539" width="1" height="7" fill="#d6433d" />
<rect x="726" y="551" width="1" height="2" fill="#d6433d" />
<rect x="724.5" y="546.5" width="4" height="4" fill="#fff" stroke="#d6433d" stroke-width="1"/>
<rect x="733" y="522" width="1" height="13" fill="#d6433d" />
<rect x="731.5" y="535.5" width="4" height="11" fill="#fff" stroke="#d6433d" stroke-width="1"/>
<rect x="740" y="518" width="1" height="14" fill="#d6433d" />
<rect x="740" y="537" width="1" height="24" fill="#d6433d" />
<rect x="738.5" y="532.5" width="4" height="4" fill="#fff" stroke="#d6433d" stroke-width="1"/>
<rect x="747" y="523" width="1" height="24" fill="#5fa55b" />
<rect x="745" y="532" width="5" height="10" fill="#5fa55b" />
<rect x="745.5" y="532.5" width="4" height="9" fill="none" stroke="#58a054" stroke-width="1"/>
<rect x="754" y="516" width="1" height="9" fill="#d6433d" />
<rect x="754" y="544" width="1" height="1" fill="#d6433d" />
<rect x="752.5" y="525.5" width="4" height="18" fill="#fff" stroke="#d6433d" stroke-width="1"/>
<rect x="761" y="511" width="1" height="5" fill="#d6433d" />
<rect x="761" y="526" width="1" height="3" fill="#d6433d" />
<rect x="759.5" y="516.5" width="4" height="9" fill="#fff" stroke="#d6433d" stroke-width="1"/>
<rect x="768" y="502" width="1" height="29" fill="#5fa55b" />
<rect x="766" y="518" width="5" height="11" fill="#5fa55b" />
<rect x="766.5" y="518.5" width="4" height="10" fill="none" stroke="#58a054" stroke-width="1"/>
<rect x="775" y="514" width="1" height="9" fill="#d6433d" />
<rect x="773.5" y="523.5" width="4" height="5" fill="#fff" stroke="#d6433d" stroke-width="1"/>
<rect x="782" y="522" width="1" height="34" fill="#5fa55b" />
<rect x="780" y="528" width="5" height="24" fill="#5fa55b" />
<rect x="780.5" y="528.5" width="4" height="23" fill="none" stroke="#58a054" stroke-width="1"/>
<rect x="789" y="550" width="1" height="21" fill="#5fa55b" />
<rect x="787" y="553" width="5" height="17" fill="#5fa55b" />
<rect x="787.5" y="553.5" width="4" height="16" fill="none" stroke="#58a054" stroke-width="1"/>
<rect x="796" y="548" width="1" height="8" fill="#d6433d" />
<rect x="796" y="571" width="1" height="4" fill="#d6433d" />
<rect x="794.5" y="556.5" width="4" height="14" fill="#fff" stroke="#d6433d" stroke-width="1"/>
<rect x="803" y="538" width="1" height="6" fill="#d6433d" />
<rect x="803" y="555" width="1" height="2" fill="#d6433d" />
<rect x="801.5" y="544.5" width="4" height="10" fill="#fff" stroke="#d6433d" stroke-width="1"/>
<rect x="810" y="531" width="1" height="25" fill="#5fa55b" />
<rect x="808" y="545" width="5" height="4" fill="#5fa55b" />
<rect x="808.5" y="545.5" width="4" height="3" fill="none" stroke="#58a054" stroke-width="1"/>
<rect x="817" y="528" width="1" height="7" fill="#d6433d" />
<rect x="817" y="553" width="1" height="1" fill="#d6433d" />
<rect x="815.5" y="535.5" width="4" height="17" fill="#fff" stroke="#d6433d" stroke-width="1"/>
<rect x="824" y="520" width="1" height="8" fill="#d6433d" />
<rect x="824" y="535" width="1" height="3" fill="#d6433d" />
<rect x="822.5" y="528.5" width="4" height="6" fill="#fff" stroke="#d6433d" stroke-width="1"/>
<rect x="831" y="495" width="1" height="6" fill="#d6433d" />
<rect x="829.5" y="501.5" width="4" height="29" fill="#fff" stroke="#d6433d" stroke-width="1"/>
<rect x="838" y="477" width="1" height="4" fill="#d6433d" />
<rect x="838" y="503" width="1" height="2" fill="#d6433d" />
<rect x="836.5" y="481.5" width="4" height="21" fill="#fff" stroke="#d6433d" stroke-width="1"/>
<rect x="845" y="472" width="1" height="10" fill="#d6433d" />
<rect x="843.5" y="482.5" width="4" height="5" fill="#fff" stroke="#d6433d" stroke-width="1"/>
<rect x="852" y="477" width="1" height="20" fill="#5fa55b" />
<rect x="850" y="485" width="5" height="7" fill="#5fa55b" />
<rect x="850.5" y="485.5" width="4" height="6" fill="none" stroke="#58a054" stroke-width="1"/>
<rect x="859" y="482" width="1" height="8" fill="#d6433d" />
<rect x="859" y="493" width="1" height="7" fill="#d6433d" />
<rect x="857.5" y="490.5" width="4" height="2" fill="#fff" stroke="#d6433d" stroke-width="1"/>
<rect x="866" y="473" width="1" height="11" fill="#d6433d" />
<rect x="866" y="491" width="1" height="4" fill="#d6433d" />
<rect x="864.5" y="484.5" width="4" height="6" fill="#fff" stroke="#d6433d" stroke-width="1"/>
<rect x="873" y="461" width="1" height="9" fill="#d6433d" />
<rect x="871.5" y="470.5" width="4" height="14" fill="#fff" stroke="#d6433d" stroke-width="1"/>
<rect x="880" y="468" width="1" height="13" fill="#5fa55b" />
<rect x="878" y="470" width="5" height="3" fill="#5fa55b" />
<rect x="878.5" y="470.5" width="4" height="2" fill="none" stroke="#58a054" stroke-width="1"/>
<rect x="887" y="469" width="1" height="12" fill="#5fa55b" />
<rect x="885" y="475" width="5" height="6" fill="#5fa55b" />
<rect x="885.5" y="475.5" width="4" height="5" fill="none" stroke="#58a054" stroke-width="1"/>
<rect x="894" y="470" width="1" height="8" fill="#d6433d" />
<rect x="892.5" y="478.5" width="4" height="2" fill="#fff" stroke="#d6433d" stroke-width="1"/>
<rect x="901" y="467" width="1" height="17" fill="#d6433d" />
<rect x="899" y="477" width="5" height="1" fill="#d6433d" />
<rect x="908" y="439" width="1" height="7" fill="#d6433d" />
<rect x="908" y="477" width="1" height="7" fill="#d6433d" />
<rect x="906.5" y="446.5" width="4" height="30" fill="#fff" stroke="#d6433d" stroke-width="1"/>
<rect x="915" y="443" width="1" height="6" fill="#d6433d" />
<rect x="913" y="448" width="5" height="1" fill="#d6433d" />
</g>
<path d="M89,450h60v1h-60zM149,449h21v1h-21zM170,448h21v1h-21zM191,447h35v1h-35zM226,446h14v1h-14zM240,445h21v1h-21zM261,444h14v1h-14zM275,443h14v1h-14zM289,442h28v1h-28zM317,441h35v1h-35zM352,440h21v1h-21zM373,439h42v1h-42zM415,438h21v1h-21zM436,437h14v1h-14zM450,436h21v1h-21zM471,435h42v1h-42zM513,436h28v1h-28zM541,437h14v1h-14zM555,436h7v1h-7zM562,437h28v1h-28zM590,438h21v1h-21zM611,439h28v1h-28zM639,440h35v1h-35zM674,441h14v1h-14zM688,442h14v1h-14zM702,443h14v1h-14zM716,444h14v1h-14zM730,445h21v1h-21zM751,446h14v1h-14zM765,447h14v1h-14zM779,448h7v1h-7zM786,449h7v1h-7zM793,450h14v1h-14zM807,451h7v1h-7zM814,452h7v1h-7zM821,453h7v1h-7zM828,454h7v1h-7zM835,455h7v1h-7zM842,456h7v1h-7zM849,457h7v1h-7zM856,458h7v1h-7zM863,459h7v1h-7zM870,460h12v1h-12zM882,461h4v1h-4zM886,462h12v1h-12zM898,463h7v1h-7zM905,464h7v1h-7zM912,465h3v1h-3z" fill="#ff00ff" shape-rendering="crispEdges"/>
<line x1="86" x2="1059" y1="447.5" y2="447.5" stroke="#0a80ff" stroke-width="1" stroke-dasharray="3 3" shape-rendering="crispEdges"/>
<path d="M236,461h2v1h-2zM255,474h2v1h-2zM497,573h4v1h-4zM679,573h4v1h-4zM318,521h2v1h-2zM424,559h5v1h-5zM767,559h3v1h-3zM417,556h3v1h-3zM779,556h14v1h-14zM464,566h7v1h-7zM742,566h4v1h-4zM350,540h4v1h-4zM861,540h2v1h-2zM511,578h2v1h-2zM662,578h3v1h-3zM378,546h4v1h-4zM840,546h4v1h-4zM527,585h2v1h-2zM639,585h5v1h-5zM238,462h2v1h-2zM197,433h1v1h-1zM300,509h2v1h-2zM543,589h26v1h-26zM576,589h14v1h-14zM604,589h14v1h-14zM445,563h5v1h-5zM756,563h4v1h-4zM118,387h2v1h-2zM483,569h4v1h-4zM728,569h4v1h-4zM199,435h2v1h-2zM340,537h3v1h-3zM868,537h2v1h-2zM148,406h2v1h-2zM121,389h1v1h-1zM534,587h5v1h-5zM625,587h7v1h-7zM410,554h3v1h-3zM800,554h7v1h-7zM590,590h14v1h-14zM420,557h2v1h-2zM774,557h5v1h-5zM506,576h2v1h-2zM669,576h3v1h-3zM326,527h1v1h-1zM900,527h10v1h-10zM285,496h1v1h-1zM518,581h2v1h-2zM651,581h4v1h-4zM490,571h4v1h-4zM695,571h28v1h-28zM457,565h7v1h-7zM746,565h5v1h-5zM494,572h3v1h-3zM683,572h12v1h-12zM413,555h4v1h-4zM793,555h7v1h-7zM330,531h2v1h-2zM882,531h4v1h-4zM429,560h7v1h-7zM765,560h2v1h-2zM403,552h3v1h-3zM814,552h5v1h-5zM529,586h5v1h-5zM632,586h7v1h-7zM382,547h5v1h-5zM837,547h3v1h-3zM471,567h7v1h-7zM737,567h5v1h-5zM364,543h4v1h-4zM851,543h3v1h-3zM329,530h1v1h-1zM886,530h5v1h-5zM539,588h4v1h-4zM569,588h7v1h-7zM618,588h7v1h-7zM399,551h4v1h-4zM819,551h4v1h-4zM195,432h2v1h-2zM144,403h2v1h-2zM387,548h5v1h-5zM833,548h4v1h-4zM368,544h5v1h-5zM847,544h4v1h-4zM322,524h1v1h-1zM914,524h2v1h-2zM229,456h1v1h-1zM347,539h3v1h-3zM863,539h2v1h-2zM269,484h2v1h-2zM209,442h2v1h-2zM230,457h2v1h-2zM138,400h2v1h-2zM281,493h1v1h-1zM515,580h3v1h-3zM655,580h3v1h-3zM327,528h1v1h-1zM896,528h4v1h-4zM325,526h1v1h-1zM910,526h2v1h-2zM478,568h5v1h-5zM732,568h5v1h-5zM271,485h1v1h-1zM192,430h2v1h-2zM333,533h1v1h-1zM877,533h2v1h-2zM211,443h1v1h-1zM140,401h2v1h-2zM113,384h2v1h-2zM450,564h7v1h-7zM751,564h5v1h-5zM373,545h5v1h-5zM844,545h3v1h-3zM522,583h3v1h-3zM646,583h2v1h-2zM406,553h4v1h-4zM807,553h7v1h-7zM251,471h2v1h-2zM396,550h3v1h-3zM823,550h5v1h-5zM295,505h2v1h-2zM314,518h2v1h-2zM307,514h2v1h-2zM336,535h2v1h-2zM872,535h3v1h-3zM525,584h2v1h-2zM644,584h2v1h-2zM142,402h2v1h-2zM206,440h2v1h-2zM135,398h1v1h-1zM297,506h1v1h-1zM185,426h2v1h-2zM501,574h3v1h-3zM676,574h3v1h-3zM105,380h2v1h-2zM188,428h2v1h-2zM309,515h2v1h-2zM117,386h1v1h-1zM136,399h2v1h-2zM109,382h2v1h-2zM354,541h5v1h-5zM858,541h3v1h-3zM311,516h2v1h-2zM520,582h2v1h-2zM648,582h3v1h-3zM101,378h2v1h-2zM93,374h2v1h-2zM513,579h2v1h-2zM658,579h4v1h-4zM328,529h1v1h-1zM891,529h5v1h-5zM95,375h2v1h-2zM422,558h2v1h-2zM770,558h4v1h-4zM487,570h3v1h-3zM723,570h5v1h-5zM262,479h2v1h-2zM97,376h2v1h-2zM223,452h2v1h-2zM436,561h5v1h-5zM763,561h2v1h-2zM89,372h2v1h-2zM184,425h1v1h-1zM508,577h3v1h-3zM665,577h4v1h-4zM225,453h1v1h-1zM359,542h5v1h-5zM854,542h4v1h-4zM91,373h2v1h-2zM265,481h2v1h-2zM277,490h1v1h-1zM127,393h2v1h-2zM392,549h4v1h-4zM828,549h5v1h-5zM291,501h1v1h-1zM504,575h2v1h-2zM672,575h4v1h-4zM292,502h1v1h-1zM303,511h1v1h-1zM171,418h2v1h-2zM202,437h2v1h-2zM441,562h4v1h-4zM760,562h3v1h-3zM131,395h1v1h-1zM165,415h2v1h-2zM167,416h2v1h-2zM158,412h3v1h-3zM169,417h2v1h-2zM161,413h2v1h-2zM242,464h2v1h-2zM152,409h2v1h-2zM302,510h1v1h-1zM338,536h2v1h-2zM870,536h2v1h-2zM163,414h2v1h-2zM246,467h2v1h-2zM332,532h1v1h-1zM879,532h3v1h-3zM258,476h2v1h-2zM198,434h1v1h-1zM156,411h2v1h-2zM343,538h4v1h-4zM865,538h3v1h-3zM179,422h2v1h-2zM220,450h2v1h-2zM273,487h1v1h-1zM122,390h2v1h-2zM276,489h1v1h-1zM216,447h2v1h-2zM234,460h2v1h-2zM287,498h1v1h-1zM175,420h2v1h-2zM298,507h1v1h-1zM257,475h1v1h-1zM320,522h1v1h-1zM321,523h1v1h-1zM272,486h1v1h-1zM253,472h1v1h-1zM194,431h1v1h-1zM115,385h2v1h-2zM227,455h2v1h-2zM268,483h1v1h-1zM282,494h1v1h-1zM190,429h2v1h-2zM293,503h1v1h-1zM111,383h2v1h-2zM212,444h1v1h-1zM283,495h2v1h-2zM294,504h1v1h-1zM316,519h1v1h-1zM107,381h2v1h-2zM99,377h2v1h-2zM267,482h1v1h-1zM103,379h2v1h-2zM248,468h1v1h-1zM208,441h1v1h-1zM279,492h2v1h-2zM249,469h1v1h-1zM222,451h1v1h-1zM132,396h2v1h-2zM323,525h2v1h-2zM912,525h2v1h-2zM226,454h1v1h-1zM264,480h1v1h-1zM177,421h2v1h-2zM278,491h1v1h-1zM181,423h2v1h-2zM304,512h2v1h-2zM173,419h2v1h-2zM274,488h2v1h-2zM151,408h1v1h-1zM244,465h1v1h-1zM154,410h2v1h-2zM288,499h2v1h-2zM204,438h1v1h-1zM125,392h2v1h-2zM245,466h1v1h-1zM218,448h1v1h-1zM334,534h2v1h-2zM875,534h2v1h-2zM240,463h2v1h-2zM129,394h2v1h-2zM124,391h1v1h-1zM299,508h1v1h-1zM147,405h1v1h-1zM120,388h1v1h-1zM150,407h1v1h-1zM213,445h2v1h-2zM232,458h1v1h-1zM254,473h1v1h-1zM317,520h1v1h-1zM233,459h1v1h-1zM146,404h1v1h-1zM250,470h1v1h-1zM187,427h1v1h-1zM313,517h1v1h-1zM306,513h1v1h-1zM205,439h1v1h-1zM134,397h1v1h-1zM260,477h1v1h-1zM261,478h1v1h-1zM183,424h1v1h-1zM219,449h1v1h-1zM290,500h1v1h-1zM201,436h1v1h-1zM215,446h1v1h-1zM286,497h1v1h-1z" fill="#000" shape-rendering="crispEdges"/>
<g shape-rendering="crispEdges">
<rect x="325" y="656" width="7" height="1" fill="#000" />
<rect x="327" y="654" width="1" height="4" fill="#000" />
<rect x="906" y="439" width="7" height="1" fill="#000" />
<rect x="908" y="437" width="1" height="4" fill="#000" />
</g>
<text x="332.6" y="667.8" font-family="Liberation Sans" font-size="12" fill="#62a85f" font-weight="bold" textLength="36.7" lengthAdjust="spacing" >1.3539</text>
<text x="913.8" y="435.8" font-family="Liberation Sans" font-size="12" fill="#d9524c" font-weight="bold" textLength="36.6" lengthAdjust="spacing" >1.4033</text>
<g><circle cx="23.5" cy="707.5" r="3.8" fill="#fff" stroke="#000" stroke-width="1"/><circle cx="23.5" cy="707.5" r="2.1" fill="#ff0000"/></g>
<g shape-rendering="crispEdges" fill="#ff0000">
<rect x="23" y="700" width="1" height="2"/>
<rect x="23" y="713" width="1" height="2"/>
<rect x="16" y="707" width="2" height="1"/>
<rect x="29" y="707" width="2" height="1"/>
<rect x="18" y="701" width="1" height="1"/>
<rect x="19" y="702" width="1" height="1"/>
<rect x="28" y="701" width="1" height="1"/>
<rect x="27" y="702" width="1" height="1"/>
<rect x="18" y="713" width="1" height="1"/>
<rect x="19" y="712" width="1" height="1"/>
<rect x="28" y="713" width="1" height="1"/>
<rect x="27" y="712" width="1" height="1"/>
</g>
<text x="87.8" y="714" font-family="Liberation Sans" font-size="12" fill="#000" textLength="77.6" lengthAdjust="spacing" >MACD(13,8,9)</text>
<text x="170.9" y="714" font-family="Liberation Sans" font-size="12" fill="#000" textLength="64.6" lengthAdjust="spacing" >DIFF:0.0024</text>
<text x="244.8" y="714" font-family="Liberation Sans" font-size="12" fill="#00008b" textLength="62.8" lengthAdjust="spacing" >DEA:0.0021</text>
<text x="318" y="714" font-family="Liberation Sans" font-size="12" fill="#ff00ff" textLength="75.6" lengthAdjust="spacing" >MACD:0.0007</text>
<g shape-rendering="crispEdges">
<rect x="89" y="776" width="1" height="35" fill="#d6433d" />
<rect x="96" y="780" width="1" height="31" fill="#d6433d" />
<rect x="103" y="771" width="1" height="40" fill="#d6433d" />
<rect x="110" y="773" width="1" height="38" fill="#d6433d" />
<rect x="117" y="773" width="1" height="38" fill="#d6433d" />
<rect x="124" y="782" width="1" height="29" fill="#d6433d" />
<rect x="131" y="775" width="1" height="36" fill="#d6433d" />
<rect x="138" y="756" width="1" height="55" fill="#d6433d" />
<rect x="145" y="746" width="1" height="65" fill="#d6433d" />
<rect x="152" y="737" width="1" height="74" fill="#d6433d" />
<rect x="159" y="745" width="1" height="66" fill="#d6433d" />
<rect x="166" y="746" width="1" height="65" fill="#d6433d" />
<rect x="173" y="756" width="1" height="55" fill="#d6433d" />
<rect x="180" y="765" width="1" height="46" fill="#d6433d" />
<rect x="187" y="776" width="1" height="35" fill="#d6433d" />
<rect x="194" y="793" width="1" height="18" fill="#d6433d" />
<rect x="201" y="810" width="1" height="5" fill="#5fa55b" />
<rect x="208" y="810" width="1" height="17" fill="#5fa55b" />
<rect x="215" y="810" width="1" height="47" fill="#5fa55b" />
<rect x="222" y="810" width="1" height="57" fill="#5fa55b" />
<rect x="229" y="810" width="1" height="43" fill="#5fa55b" />
<rect x="236" y="810" width="1" height="25" fill="#5fa55b" />
<rect x="243" y="810" width="1" height="18" fill="#5fa55b" />
<rect x="250" y="810" width="1" height="26" fill="#5fa55b" />
<rect x="257" y="810" width="1" height="31" fill="#5fa55b" />
<rect x="264" y="810" width="1" height="28" fill="#5fa55b" />
<rect x="271" y="810" width="1" height="31" fill="#5fa55b" />
<rect x="278" y="810" width="1" height="29" fill="#5fa55b" />
<rect x="285" y="810" width="1" height="19" fill="#5fa55b" />
<rect x="292" y="810" width="1" height="9" fill="#5fa55b" />
<rect x="299" y="810" width="1" height="7" fill="#5fa55b" />
<rect x="306" y="810" width="1" height="3" fill="#5fa55b" />
<rect x="313" y="810" width="1" height="12" fill="#5fa55b" />
<rect x="320" y="810" width="1" height="17" fill="#5fa55b" />
<rect x="327" y="810" width="1" height="19" fill="#5fa55b" />
<rect x="334" y="804" width="1" height="7" fill="#d6433d" />
<rect x="341" y="787" width="1" height="24" fill="#d6433d" />
<rect x="348" y="776" width="1" height="35" fill="#d6433d" />
<rect x="355" y="765" width="1" height="46" fill="#d6433d" />
<rect x="362" y="762" width="1" height="49" fill="#d6433d" />
<rect x="369" y="765" width="1" height="46" fill="#d6433d" />
<rect x="376" y="769" width="1" height="42" fill="#d6433d" />
<rect x="383" y="791" width="1" height="20" fill="#d6433d" />
<rect x="390" y="794" width="1" height="17" fill="#d6433d" />
<rect x="397" y="810" width="1" height="3" fill="#5fa55b" />
<rect x="404" y="810" width="1" height="5" fill="#5fa55b" />
<rect x="411" y="810" width="1" height="16" fill="#5fa55b" />
<rect x="418" y="810" width="1" height="21" fill="#5fa55b" />
<rect x="425" y="810" width="1" height="17" fill="#5fa55b" />
<rect x="432" y="806" width="1" height="5" fill="#d6433d" />
<rect x="439" y="799" width="1" height="12" fill="#d6433d" />
<rect x="446" y="791" width="1" height="20" fill="#d6433d" />
<rect x="453" y="793" width="1" height="18" fill="#d6433d" />
<rect x="460" y="788" width="1" height="23" fill="#d6433d" />
<rect x="467" y="784" width="1" height="27" fill="#d6433d" />
<rect x="474" y="781" width="1" height="30" fill="#d6433d" />
<rect x="481" y="790" width="1" height="21" fill="#d6433d" />
<rect x="488" y="783" width="1" height="28" fill="#d6433d" />
<rect x="495" y="786" width="1" height="25" fill="#d6433d" />
<rect x="502" y="799" width="1" height="12" fill="#d6433d" />
<rect x="509" y="810" width="1" height="13" fill="#5fa55b" />
<rect x="516" y="810" width="1" height="27" fill="#5fa55b" />
<rect x="523" y="810" width="1" height="24" fill="#5fa55b" />
<rect x="530" y="810" width="1" height="7" fill="#5fa55b" />
<rect x="537" y="800" width="1" height="11" fill="#d6433d" />
<rect x="544" y="786" width="1" height="25" fill="#d6433d" />
<rect x="551" y="770" width="1" height="41" fill="#d6433d" />
<rect x="558" y="761" width="1" height="50" fill="#d6433d" />
<rect x="565" y="776" width="1" height="35" fill="#d6433d" />
<rect x="572" y="787" width="1" height="24" fill="#d6433d" />
<rect x="579" y="798" width="1" height="13" fill="#d6433d" />
<rect x="586" y="810" width="1" height="3" fill="#5fa55b" />
<rect x="593" y="810" width="1" height="10" fill="#5fa55b" />
<rect x="600" y="810" width="1" height="13" fill="#5fa55b" />
<rect x="607" y="810" width="1" height="9" fill="#5fa55b" />
<rect x="614" y="810" width="1" height="9" fill="#5fa55b" />
<rect x="621" y="810" width="1" height="11" fill="#5fa55b" />
<rect x="628" y="810" width="1" height="2" fill="#5fa55b" />
<rect x="635" y="806" width="1" height="5" fill="#d6433d" />
<rect x="642" y="807" width="1" height="4" fill="#d6433d" />
<rect x="649" y="797" width="1" height="14" fill="#d6433d" />
<rect x="656" y="792" width="1" height="19" fill="#d6433d" />
<rect x="663" y="785" width="1" height="26" fill="#d6433d" />
<rect x="670" y="802" width="1" height="9" fill="#d6433d" />
<rect x="677" y="806" width="1" height="5" fill="#d6433d" />
<rect x="684" y="810" width="1" height="4" fill="#5fa55b" />
<rect x="691" y="810" width="1" height="19" fill="#5fa55b" />
<rect x="698" y="810" width="1" height="34" fill="#5fa55b" />
<rect x="705" y="810" width="1" height="42" fill="#5fa55b" />
<rect x="712" y="810" width="1" height="41" fill="#5fa55b" />
<rect x="719" y="810" width="1" height="31" fill="#5fa55b" />
<rect x="726" y="810" width="1" height="21" fill="#5fa55b" />
<rect x="733" y="810" width="1" height="9" fill="#5fa55b" />
<rect x="740" y="809" width="1" height="2" fill="#d6433d" />
<rect x="747" y="809" width="1" height="2" fill="#d6433d" />
<rect x="754" y="802" width="1" height="9" fill="#d6433d" />
<rect x="761" y="795" width="1" height="16" fill="#d6433d" />
<rect x="768" y="799" width="1" height="12" fill="#d6433d" />
<rect x="775" y="798" width="1" height="13" fill="#d6433d" />
<rect x="782" y="810" width="1" height="5" fill="#5fa55b" />
<rect x="789" y="810" width="1" height="20" fill="#5fa55b" />
<rect x="796" y="810" width="1" height="20" fill="#5fa55b" />
<rect x="803" y="810" width="1" height="14" fill="#5fa55b" />
<rect x="810" y="810" width="1" height="11" fill="#5fa55b" />
<rect x="817" y="810" width="1" height="3" fill="#5fa55b" />
<rect x="824" y="804" width="1" height="7" fill="#d6433d" />
<rect x="831" y="788" width="1" height="23" fill="#d6433d" />
<rect x="838" y="774" width="1" height="37" fill="#d6433d" />
<rect x="845" y="769" width="1" height="42" fill="#d6433d" />
<rect x="852" y="776" width="1" height="35" fill="#d6433d" />
<rect x="859" y="783" width="1" height="28" fill="#d6433d" />
<rect x="866" y="787" width="1" height="24" fill="#d6433d" />
<rect x="873" y="786" width="1" height="25" fill="#d6433d" />
<rect x="880" y="791" width="1" height="20" fill="#d6433d" />
<rect x="887" y="800" width="1" height="11" fill="#d6433d" />
<rect x="894" y="805" width="1" height="6" fill="#d6433d" />
<rect x="901" y="810" width="1" height="1" fill="#5fa55b" />
<rect x="908" y="801" width="1" height="10" fill="#d6433d" />
<rect x="915" y="799" width="1" height="12" fill="#d6433d" />
</g>
<path d="M122,866h2v1h-2zM555,798h1v1h-1zM708,798h1v1h-1zM846,798h2v1h-2zM667,785h7v1h-7zM681,785h5v1h-5zM872,785h3v1h-3zM910,779h4v1h-4zM167,820h1v1h-1zM225,820h1v1h-1zM459,820h3v1h-3zM177,811h1v1h-1zM216,811h1v1h-1zM478,811h2v1h-2zM527,811h7v1h-7zM809,811h17v1h-17zM152,836h1v1h-1zM260,836h2v1h-2zM362,836h1v1h-1zM185,806h2v1h-2zM209,806h2v1h-2zM490,806h2v1h-2zM513,806h2v1h-2zM544,806h1v1h-1zM721,806h2v1h-2zM756,806h4v1h-4zM788,806h3v1h-3zM834,806h2v1h-2zM178,810h2v1h-2zM215,810h1v1h-1zM480,810h3v1h-3zM522,810h5v1h-5zM534,810h4v1h-4zM805,810h4v1h-4zM826,810h2v1h-2zM155,832h1v1h-1zM252,832h2v1h-2zM367,832h2v1h-2zM165,822h1v1h-1zM227,822h2v1h-2zM385,822h4v1h-4zM394,822h12v1h-12zM452,822h3v1h-3zM180,809h1v1h-1zM213,809h2v1h-2zM483,809h2v1h-2zM520,809h2v1h-2zM538,809h2v1h-2zM730,809h19v1h-19zM800,809h5v1h-5zM828,809h2v1h-2zM127,863h2v1h-2zM181,808h2v1h-2zM212,808h1v1h-1zM485,808h2v1h-2zM518,808h2v1h-2zM540,808h2v1h-2zM725,808h5v1h-5zM749,808h4v1h-4zM795,808h5v1h-5zM830,808h2v1h-2zM143,847h1v1h-1zM284,847h3v1h-3zM349,847h1v1h-1zM879,783h5v1h-5zM891,781h14v1h-14zM158,829h1v1h-1zM245,829h2v1h-2zM372,829h1v1h-1zM424,829h5v1h-5zM562,793h1v1h-1zM616,793h4v1h-4zM632,793h7v1h-7zM701,793h1v1h-1zM854,793h2v1h-2zM143,848h1v1h-1zM287,848h4v1h-4zM347,848h2v1h-2zM571,789h3v1h-3zM592,789h5v1h-5zM655,789h3v1h-3zM694,789h2v1h-2zM862,789h2v1h-2zM563,792h2v1h-2zM611,792h5v1h-5zM639,792h7v1h-7zM699,792h2v1h-2zM856,792h2v1h-2zM884,782h7v1h-7zM160,827h1v1h-1zM238,827h4v1h-4zM374,827h2v1h-2zM417,827h3v1h-3zM436,827h5v1h-5zM154,834h1v1h-1zM256,834h2v1h-2zM365,834h1v1h-1zM574,788h4v1h-4zM588,788h4v1h-4zM658,788h2v1h-2zM692,788h2v1h-2zM864,788h2v1h-2zM565,791h2v1h-2zM604,791h7v1h-7zM646,791h5v1h-5zM698,791h1v1h-1zM858,791h2v1h-2zM137,855h1v1h-1zM325,855h2v1h-2zM331,855h4v1h-4zM140,851h1v1h-1zM310,851h7v1h-7zM341,851h2v1h-2zM187,805h2v1h-2zM207,805h2v1h-2zM492,805h2v1h-2zM511,805h2v1h-2zM545,805h2v1h-2zM719,805h2v1h-2zM760,805h5v1h-5zM784,805h4v1h-4zM836,805h2v1h-2zM662,786h5v1h-5zM686,786h4v1h-4zM868,786h4v1h-4zM141,850h1v1h-1zM296,850h14v1h-14zM343,850h2v1h-2zM144,846h1v1h-1zM280,846h4v1h-4zM350,846h1v1h-1zM578,787h10v1h-10zM660,787h2v1h-2zM690,787h2v1h-2zM866,787h2v1h-2zM174,813h2v1h-2zM218,813h1v1h-1zM474,813h2v1h-2zM150,838h1v1h-1zM264,838h2v1h-2zM360,838h1v1h-1zM905,780h5v1h-5zM99,881h1v1h-1zM161,826h1v1h-1zM235,826h3v1h-3zM376,826h2v1h-2zM415,826h2v1h-2zM441,826h2v1h-2zM183,807h2v1h-2zM211,807h1v1h-1zM487,807h3v1h-3zM515,807h3v1h-3zM542,807h2v1h-2zM723,807h2v1h-2zM753,807h3v1h-3zM791,807h4v1h-4zM832,807h2v1h-2zM561,794h1v1h-1zM620,794h12v1h-12zM702,794h1v1h-1zM852,794h2v1h-2zM118,868h2v1h-2zM164,823h1v1h-1zM229,823h2v1h-2zM382,823h3v1h-3zM406,823h4v1h-4zM448,823h4v1h-4zM142,849h1v1h-1zM291,849h5v1h-5zM345,849h2v1h-2zM191,803h2v1h-2zM198,803h5v1h-5zM499,803h7v1h-7zM548,803h1v1h-1zM715,803h2v1h-2zM772,803h7v1h-7zM839,803h2v1h-2zM115,870h2v1h-2zM556,797h2v1h-2zM706,797h2v1h-2zM848,797h1v1h-1zM193,802h5v1h-5zM549,802h2v1h-2zM713,802h2v1h-2zM841,802h1v1h-1zM159,828h1v1h-1zM242,828h3v1h-3zM373,828h1v1h-1zM420,828h4v1h-4zM429,828h7v1h-7zM163,824h1v1h-1zM231,824h2v1h-2zM380,824h2v1h-2zM410,824h3v1h-3zM445,824h3v1h-3zM140,852h1v1h-1zM317,852h4v1h-4zM339,852h2v1h-2zM189,804h2v1h-2zM203,804h4v1h-4zM494,804h5v1h-5zM506,804h5v1h-5zM547,804h1v1h-1zM717,804h2v1h-2zM765,804h7v1h-7zM779,804h5v1h-5zM838,804h1v1h-1zM552,800h2v1h-2zM710,800h2v1h-2zM843,800h2v1h-2zM559,795h2v1h-2zM703,795h2v1h-2zM850,795h2v1h-2zM162,825h1v1h-1zM233,825h2v1h-2zM378,825h2v1h-2zM413,825h2v1h-2zM443,825h2v1h-2zM173,814h1v1h-1zM218,814h1v1h-1zM472,814h2v1h-2zM146,844h1v1h-1zM276,844h2v1h-2zM353,844h1v1h-1zM172,815h1v1h-1zM219,815h1v1h-1zM470,815h2v1h-2zM103,878h1v1h-1zM150,839h1v1h-1zM266,839h2v1h-2zM358,839h2v1h-2zM674,784h7v1h-7zM875,784h4v1h-4zM567,790h4v1h-4zM597,790h7v1h-7zM651,790h4v1h-4zM696,790h2v1h-2zM860,790h2v1h-2zM138,854h1v1h-1zM323,854h2v1h-2zM335,854h2v1h-2zM95,883h2v1h-2zM107,875h1v1h-1zM145,845h1v1h-1zM278,845h2v1h-2zM351,845h2v1h-2zM147,842h1v1h-1zM272,842h2v1h-2zM355,842h1v1h-1zM914,778h2v1h-2zM149,840h1v1h-1zM268,840h2v1h-2zM357,840h1v1h-1zM169,818h1v1h-1zM222,818h1v1h-1zM464,818h2v1h-2zM554,799h1v1h-1zM709,799h1v1h-1zM845,799h1v1h-1zM166,821h1v1h-1zM226,821h1v1h-1zM389,821h5v1h-5zM455,821h4v1h-4zM136,856h1v1h-1zM327,856h4v1h-4zM91,885h2v1h-2zM157,830h1v1h-1zM247,830h2v1h-2zM370,830h2v1h-2zM155,833h1v1h-1zM254,833h2v1h-2zM366,833h1v1h-1zM176,812h1v1h-1zM217,812h1v1h-1zM476,812h2v1h-2zM129,862h2v1h-2zM120,867h2v1h-2zM101,879h2v1h-2zM133,859h1v1h-1zM125,864h2v1h-2zM147,843h1v1h-1zM274,843h2v1h-2zM354,843h1v1h-1zM558,796h1v1h-1zM705,796h1v1h-1zM849,796h1v1h-1zM148,841h1v1h-1zM270,841h2v1h-2zM356,841h1v1h-1zM151,837h1v1h-1zM262,837h2v1h-2zM361,837h1v1h-1zM168,819h1v1h-1zM223,819h2v1h-2zM462,819h2v1h-2zM104,877h2v1h-2zM117,869h1v1h-1zM171,816h1v1h-1zM220,816h1v1h-1zM468,816h2v1h-2zM108,874h2v1h-2zM153,835h1v1h-1zM258,835h2v1h-2zM363,835h2v1h-2zM156,831h1v1h-1zM249,831h3v1h-3zM369,831h1v1h-1zM89,886h2v1h-2zM113,871h2v1h-2zM97,882h2v1h-2zM139,853h1v1h-1zM321,853h2v1h-2zM337,853h2v1h-2zM135,857h1v1h-1zM170,817h1v1h-1zM221,817h1v1h-1zM466,817h2v1h-2zM111,872h2v1h-2zM131,861h1v1h-1zM124,865h1v1h-1zM100,880h1v1h-1zM93,884h2v1h-2zM106,876h1v1h-1zM551,801h1v1h-1zM712,801h1v1h-1zM842,801h1v1h-1zM110,873h1v1h-1zM132,860h1v1h-1zM134,858h1v1h-1z" fill="#00008b" shape-rendering="crispEdges"/>
<path d="M143,817h1v1h-1zM209,817h1v1h-1zM357,817h1v1h-1zM392,817h1v1h-1zM444,817h1v1h-1zM514,817h1v1h-1zM527,817h1v1h-1zM704,817h1v1h-1zM727,817h2v1h-2zM791,817h4v1h-4zM798,817h4v1h-4zM807,817h4v1h-4zM549,785h1v1h-1zM583,785h1v1h-1zM649,785h1v1h-1zM681,785h1v1h-1zM838,785h1v1h-1zM145,814h1v1h-1zM208,814h1v1h-1zM359,814h1v1h-1zM383,814h8v1h-8zM450,814h4v1h-4zM512,814h1v1h-1zM530,814h1v1h-1zM702,814h1v1h-1zM731,814h2v1h-2zM788,814h1v1h-1zM815,814h2v1h-2zM554,778h1v1h-1zM574,778h2v1h-2zM657,778h2v1h-2zM667,778h1v1h-1zM845,778h18v1h-18zM891,778h2v1h-2zM904,778h2v1h-2zM140,823h1v1h-1zM212,823h1v1h-1zM353,823h1v1h-1zM397,823h4v1h-4zM437,823h2v1h-2zM162,793h1v1h-1zM194,793h1v1h-1zM488,793h4v1h-4zM496,793h2v1h-2zM545,793h1v1h-1zM594,793h2v1h-2zM630,793h2v1h-2zM689,793h1v1h-1zM833,793h1v1h-1zM127,848h1v1h-1zM255,848h1v1h-1zM336,848h1v1h-1zM133,839h1v1h-1zM219,839h1v1h-1zM234,839h2v1h-2zM245,839h1v1h-1zM342,839h1v1h-1zM145,813h1v1h-1zM208,813h1v1h-1zM360,813h1v1h-1zM382,813h1v1h-1zM454,813h2v1h-2zM511,813h1v1h-1zM531,813h1v1h-1zM701,813h1v1h-1zM733,813h1v1h-1zM787,813h1v1h-1zM817,813h1v1h-1zM136,832h1v1h-1zM215,832h1v1h-1zM347,832h1v1h-1zM412,832h2v1h-2zM428,832h1v1h-1zM551,782h1v1h-1zM581,782h1v1h-1zM652,782h2v1h-2zM674,782h4v1h-4zM841,782h1v1h-1zM550,783h1v1h-1zM581,783h1v1h-1zM651,783h1v1h-1zM678,783h2v1h-2zM840,783h1v1h-1zM556,774h1v1h-1zM564,774h3v1h-3zM663,774h1v1h-1zM872,774h5v1h-5zM882,774h2v1h-2zM910,774h4v1h-4zM160,796h1v1h-1zM196,796h1v1h-1zM485,796h1v1h-1zM500,796h2v1h-2zM543,796h1v1h-1zM600,796h4v1h-4zM611,796h5v1h-5zM625,796h1v1h-1zM691,796h1v1h-1zM832,796h1v1h-1zM143,818h1v1h-1zM210,818h1v1h-1zM356,818h1v1h-1zM393,818h1v1h-1zM443,818h1v1h-1zM515,818h1v1h-1zM526,818h1v1h-1zM705,818h2v1h-2zM725,818h2v1h-2zM795,818h3v1h-3zM136,831h1v1h-1zM215,831h1v1h-1zM348,831h1v1h-1zM411,831h1v1h-1zM429,831h1v1h-1zM163,792h1v1h-1zM193,792h1v1h-1zM492,792h4v1h-4zM546,792h1v1h-1zM592,792h2v1h-2zM632,792h2v1h-2zM639,792h4v1h-4zM688,792h1v1h-1zM834,792h1v1h-1zM151,802h1v1h-1zM200,802h1v1h-1zM470,802h2v1h-2zM505,802h1v1h-1zM539,802h1v1h-1zM694,802h1v1h-1zM756,802h1v1h-1zM779,802h1v1h-1zM828,802h1v1h-1zM555,776h1v1h-1zM569,776h2v1h-2zM660,776h1v1h-1zM665,776h1v1h-1zM868,776h2v1h-2zM886,776h3v1h-3zM907,776h1v1h-1zM106,856h2v1h-2zM269,856h2v1h-2zM286,856h2v1h-2zM312,856h1v1h-1zM332,856h1v1h-1zM128,846h1v1h-1zM253,846h1v1h-1zM337,846h1v1h-1zM148,807h1v1h-1zM203,807h1v1h-1zM371,807h2v1h-2zM378,807h1v1h-1zM463,807h2v1h-2zM507,807h1v1h-1zM535,807h1v1h-1zM697,807h1v1h-1zM748,807h2v1h-2zM783,807h1v1h-1zM825,807h1v1h-1zM172,787h5v1h-5zM184,787h4v1h-4zM548,787h1v1h-1zM584,787h1v1h-1zM647,787h1v1h-1zM684,787h1v1h-1zM837,787h1v1h-1zM164,791h1v1h-1zM192,791h1v1h-1zM546,791h1v1h-1zM590,791h2v1h-2zM634,791h5v1h-5zM643,791h1v1h-1zM687,791h1v1h-1zM834,791h1v1h-1zM147,810h1v1h-1zM206,810h1v1h-1zM364,810h2v1h-2zM380,810h1v1h-1zM458,810h2v1h-2zM509,810h1v1h-1zM533,810h1v1h-1zM699,810h1v1h-1zM737,810h1v1h-1zM785,810h1v1h-1zM822,810h2v1h-2zM150,804h1v1h-1zM201,804h1v1h-1zM468,804h1v1h-1zM506,804h1v1h-1zM537,804h1v1h-1zM695,804h1v1h-1zM754,804h1v1h-1zM781,804h1v1h-1zM827,804h1v1h-1zM129,845h1v1h-1zM222,845h2v1h-2zM252,845h1v1h-1zM338,845h1v1h-1zM161,795h1v1h-1zM195,795h1v1h-1zM486,795h1v1h-1zM499,795h1v1h-1zM544,795h1v1h-1zM598,795h2v1h-2zM604,795h7v1h-7zM626,795h2v1h-2zM690,795h1v1h-1zM832,795h1v1h-1zM148,808h1v1h-1zM204,808h1v1h-1zM368,808h3v1h-3zM378,808h1v1h-1zM461,808h2v1h-2zM508,808h1v1h-1zM534,808h1v1h-1zM697,808h1v1h-1zM740,808h8v1h-8zM784,808h1v1h-1zM825,808h1v1h-1zM154,799h2v1h-2zM198,799h1v1h-1zM474,799h4v1h-4zM482,799h1v1h-1zM503,799h1v1h-1zM541,799h1v1h-1zM620,799h2v1h-2zM693,799h1v1h-1zM760,799h1v1h-1zM765,799h7v1h-7zM776,799h1v1h-1zM830,799h1v1h-1zM131,843h1v1h-1zM221,843h1v1h-1zM228,843h2v1h-2zM250,843h1v1h-1zM339,843h1v1h-1zM168,788h4v1h-4zM188,788h1v1h-1zM548,788h1v1h-1zM585,788h1v1h-1zM646,788h1v1h-1zM685,788h1v1h-1zM836,788h1v1h-1zM555,775h1v1h-1zM567,775h2v1h-2zM661,775h2v1h-2zM664,775h1v1h-1zM870,775h2v1h-2zM884,775h2v1h-2zM908,775h2v1h-2zM558,771h2v1h-2zM152,800h2v1h-2zM198,800h1v1h-1zM473,800h1v1h-1zM478,800h4v1h-4zM504,800h1v1h-1zM540,800h1v1h-1zM693,800h1v1h-1zM759,800h1v1h-1zM777,800h1v1h-1zM829,800h1v1h-1zM146,812h1v1h-1zM207,812h1v1h-1zM361,812h1v1h-1zM381,812h1v1h-1zM456,812h1v1h-1zM510,812h1v1h-1zM531,812h1v1h-1zM700,812h1v1h-1zM734,812h2v1h-2zM786,812h1v1h-1zM818,812h2v1h-2zM108,855h2v1h-2zM268,855h1v1h-1zM288,855h2v1h-2zM311,855h1v1h-1zM332,855h1v1h-1zM104,857h2v1h-2zM271,857h2v1h-2zM284,857h2v1h-2zM313,857h1v1h-1zM331,857h1v1h-1zM141,822h1v1h-1zM211,822h1v1h-1zM353,822h1v1h-1zM396,822h1v1h-1zM439,822h1v1h-1zM522,822h2v1h-2zM166,789h2v1h-2zM189,789h1v1h-1zM547,789h1v1h-1zM586,789h2v1h-2zM645,789h1v1h-1zM686,789h1v1h-1zM836,789h1v1h-1zM553,779h1v1h-1zM576,779h2v1h-2zM656,779h1v1h-1zM668,779h1v1h-1zM844,779h1v1h-1zM893,779h3v1h-3zM903,779h1v1h-1zM141,821h1v1h-1zM211,821h1v1h-1zM354,821h1v1h-1zM395,821h1v1h-1zM440,821h1v1h-1zM518,821h4v1h-4zM524,821h1v1h-1zM711,821h5v1h-5zM147,809h1v1h-1zM205,809h1v1h-1zM366,809h2v1h-2zM379,809h1v1h-1zM460,809h1v1h-1zM508,809h1v1h-1zM533,809h1v1h-1zM698,809h1v1h-1zM738,809h2v1h-2zM785,809h1v1h-1zM824,809h1v1h-1zM144,816h1v1h-1zM209,816h1v1h-1zM358,816h1v1h-1zM392,816h1v1h-1zM445,816h1v1h-1zM513,816h1v1h-1zM528,816h1v1h-1zM703,816h1v1h-1zM729,816h1v1h-1zM789,816h2v1h-2zM802,816h5v1h-5zM811,816h2v1h-2zM552,780h1v1h-1zM578,780h2v1h-2zM655,780h1v1h-1zM669,780h1v1h-1zM843,780h1v1h-1zM896,780h4v1h-4zM902,780h1v1h-1zM557,773h1v1h-1zM562,773h2v1h-2zM877,773h5v1h-5zM914,773h2v1h-2zM156,798h2v1h-2zM197,798h1v1h-1zM483,798h1v1h-1zM503,798h1v1h-1zM542,798h1v1h-1zM618,798h2v1h-2zM622,798h2v1h-2zM692,798h1v1h-1zM761,798h4v1h-4zM772,798h4v1h-4zM830,798h1v1h-1zM117,850h4v1h-4zM125,850h1v1h-1zM257,850h2v1h-2zM335,850h1v1h-1zM134,835h1v1h-1zM217,835h1v1h-1zM345,835h1v1h-1zM416,835h2v1h-2zM426,835h1v1h-1zM103,858h1v1h-1zM273,858h2v1h-2zM282,858h2v1h-2zM314,858h2v1h-2zM331,858h1v1h-1zM554,777h1v1h-1zM571,777h3v1h-3zM659,777h1v1h-1zM666,777h1v1h-1zM863,777h5v1h-5zM889,777h2v1h-2zM906,777h1v1h-1zM131,842h1v1h-1zM220,842h1v1h-1zM230,842h2v1h-2zM249,842h1v1h-1zM340,842h1v1h-1zM91,869h4v1h-4zM134,837h1v1h-1zM218,837h1v1h-1zM240,837h4v1h-4zM343,837h1v1h-1zM422,837h4v1h-4zM158,797h2v1h-2zM197,797h1v1h-1zM484,797h1v1h-1zM502,797h1v1h-1zM542,797h1v1h-1zM616,797h2v1h-2zM624,797h1v1h-1zM692,797h1v1h-1zM831,797h1v1h-1zM115,851h2v1h-2zM121,851h4v1h-4zM259,851h4v1h-4zM305,851h2v1h-2zM335,851h1v1h-1zM134,836h1v1h-1zM217,836h1v1h-1zM344,836h1v1h-1zM418,836h4v1h-4zM426,836h1v1h-1zM142,819h1v1h-1zM210,819h1v1h-1zM355,819h1v1h-1zM394,819h1v1h-1zM442,819h1v1h-1zM515,819h1v1h-1zM526,819h1v1h-1zM707,819h2v1h-2zM721,819h4v1h-4zM138,828h1v1h-1zM214,828h1v1h-1zM350,828h1v1h-1zM408,828h1v1h-1zM431,828h1v1h-1zM140,824h1v1h-1zM212,824h1v1h-1zM352,824h1v1h-1zM401,824h4v1h-4zM435,824h2v1h-2zM151,801h1v1h-1zM199,801h1v1h-1zM472,801h1v1h-1zM504,801h1v1h-1zM539,801h1v1h-1zM694,801h1v1h-1zM757,801h2v1h-2zM778,801h1v1h-1zM829,801h1v1h-1zM142,820h1v1h-1zM211,820h1v1h-1zM354,820h1v1h-1zM395,820h1v1h-1zM441,820h1v1h-1zM516,820h2v1h-2zM525,820h1v1h-1zM709,820h2v1h-2zM716,820h5v1h-5zM132,840h1v1h-1zM219,840h1v1h-1zM233,840h1v1h-1zM246,840h2v1h-2zM341,840h1v1h-1zM98,865h1v1h-1zM327,865h1v1h-1zM150,803h1v1h-1zM200,803h1v1h-1zM469,803h1v1h-1zM505,803h1v1h-1zM538,803h1v1h-1zM695,803h1v1h-1zM755,803h1v1h-1zM780,803h1v1h-1zM827,803h1v1h-1zM149,806h1v1h-1zM203,806h1v1h-1zM373,806h2v1h-2zM377,806h1v1h-1zM465,806h2v1h-2zM507,806h1v1h-1zM536,806h1v1h-1zM696,806h1v1h-1zM750,806h2v1h-2zM783,806h1v1h-1zM826,806h1v1h-1zM177,786h7v1h-7zM549,786h1v1h-1zM584,786h1v1h-1zM648,786h1v1h-1zM682,786h2v1h-2zM837,786h1v1h-1zM162,794h1v1h-1zM195,794h1v1h-1zM487,794h1v1h-1zM498,794h1v1h-1zM545,794h1v1h-1zM596,794h2v1h-2zM628,794h2v1h-2zM689,794h1v1h-1zM833,794h1v1h-1zM552,781h1v1h-1zM580,781h1v1h-1zM654,781h1v1h-1zM670,781h4v1h-4zM842,781h1v1h-1zM900,781h2v1h-2zM133,838h1v1h-1zM218,838h1v1h-1zM236,838h4v1h-4zM244,838h1v1h-1zM343,838h1v1h-1zM135,834h1v1h-1zM216,834h1v1h-1zM346,834h1v1h-1zM415,834h1v1h-1zM427,834h1v1h-1zM111,853h2v1h-2zM265,853h2v1h-2zM292,853h9v1h-9zM308,853h1v1h-1zM333,853h1v1h-1zM138,827h1v1h-1zM213,827h1v1h-1zM350,827h1v1h-1zM407,827h1v1h-1zM431,827h1v1h-1zM139,825h1v1h-1zM212,825h1v1h-1zM351,825h1v1h-1zM405,825h1v1h-1zM433,825h2v1h-2zM137,830h1v1h-1zM214,830h1v1h-1zM349,830h1v1h-1zM410,830h1v1h-1zM429,830h1v1h-1zM132,841h1v1h-1zM220,841h1v1h-1zM232,841h1v1h-1zM248,841h1v1h-1zM340,841h1v1h-1zM102,860h1v1h-1zM277,860h3v1h-3zM318,860h2v1h-2zM330,860h1v1h-1zM550,784h1v1h-1zM582,784h1v1h-1zM650,784h1v1h-1zM680,784h1v1h-1zM839,784h1v1h-1zM130,844h1v1h-1zM221,844h1v1h-1zM224,844h4v1h-4zM251,844h1v1h-1zM339,844h1v1h-1zM101,861h1v1h-1zM320,861h1v1h-1zM329,861h1v1h-1zM102,859h1v1h-1zM275,859h2v1h-2zM280,859h2v1h-2zM316,859h2v1h-2zM330,859h1v1h-1zM139,826h1v1h-1zM213,826h1v1h-1zM351,826h1v1h-1zM406,826h1v1h-1zM432,826h1v1h-1zM146,811h1v1h-1zM206,811h1v1h-1zM362,811h2v1h-2zM381,811h1v1h-1zM457,811h1v1h-1zM510,811h1v1h-1zM532,811h1v1h-1zM700,811h1v1h-1zM736,811h1v1h-1zM786,811h1v1h-1zM820,811h2v1h-2zM137,829h1v1h-1zM214,829h1v1h-1zM349,829h1v1h-1zM409,829h1v1h-1zM430,829h1v1h-1zM149,805h1v1h-1zM202,805h1v1h-1zM375,805h2v1h-2zM467,805h1v1h-1zM506,805h1v1h-1zM536,805h1v1h-1zM696,805h1v1h-1zM752,805h2v1h-2zM782,805h1v1h-1zM826,805h1v1h-1zM113,852h2v1h-2zM263,852h2v1h-2zM301,852h4v1h-4zM307,852h1v1h-1zM334,852h1v1h-1zM144,815h1v1h-1zM209,815h1v1h-1zM358,815h1v1h-1zM391,815h1v1h-1zM446,815h4v1h-4zM512,815h1v1h-1zM529,815h1v1h-1zM703,815h1v1h-1zM730,815h1v1h-1zM788,815h1v1h-1zM813,815h2v1h-2zM95,868h2v1h-2zM165,790h1v1h-1zM190,790h2v1h-2zM547,790h1v1h-1zM588,790h2v1h-2zM644,790h1v1h-1zM686,790h1v1h-1zM835,790h1v1h-1zM557,772h1v1h-1zM560,772h2v1h-2zM127,847h1v1h-1zM254,847h1v1h-1zM337,847h1v1h-1zM97,867h1v1h-1zM135,833h1v1h-1zM216,833h1v1h-1zM346,833h1v1h-1zM414,833h1v1h-1zM428,833h1v1h-1zM110,854h1v1h-1zM267,854h1v1h-1zM290,854h2v1h-2zM309,854h2v1h-2zM333,854h1v1h-1zM100,862h1v1h-1zM321,862h2v1h-2zM329,862h1v1h-1zM97,866h1v1h-1zM99,863h1v1h-1zM323,863h2v1h-2zM328,863h1v1h-1zM99,864h1v1h-1zM325,864h2v1h-2zM328,864h1v1h-1zM126,849h1v1h-1zM256,849h1v1h-1zM336,849h1v1h-1zM89,870h2v1h-2z" fill="#000" shape-rendering="crispEdges"/>
<g shape-rendering="crispEdges">
<rect x="103" y="919" width="1" height="6" fill="#c9d3dc" />
<rect x="257" y="919" width="1" height="6" fill="#c9d3dc" />
<rect x="404" y="919" width="1" height="6" fill="#c9d3dc" />
<rect x="565" y="919" width="1" height="6" fill="#c9d3dc" />
<rect x="712" y="919" width="1" height="6" fill="#c9d3dc" />
<rect x="866" y="919" width="1" height="6" fill="#c9d3dc" />
<rect x="210" y="936" width="527" height="1" fill="#e9eef2" />
<rect x="14.5" y="919.5" width="70" height="19" fill="#fff" stroke="#cdd5dd" stroke-width="1"/>
</g>
<text x="105.2" y="931.8" font-family="Liberation Sans" font-size="12" fill="#1c1c30" font-weight="bold" textLength="44.4" lengthAdjust="spacing" >2025/05</text>
<text x="259.2" y="931.8" font-family="Liberation Sans" font-size="12" fill="#1c1c30" font-weight="bold" textLength="44.4" lengthAdjust="spacing" >2025/06</text>
<text x="406.2" y="931.8" font-family="Liberation Sans" font-size="12" fill="#1c1c30" font-weight="bold" textLength="44.4" lengthAdjust="spacing" >2025/07</text>
<text x="567.2" y="931.8" font-family="Liberation Sans" font-size="12" fill="#1c1c30" font-weight="bold" textLength="44.4" lengthAdjust="spacing" >2025/08</text>
<text x="714.2" y="931.8" font-family="Liberation Sans" font-size="12" fill="#1c1c30" font-weight="bold" textLength="44.4" lengthAdjust="spacing" >2025/09</text>
<text x="868.2" y="931.8" font-family="Liberation Sans" font-size="12" fill="#1c1c30" font-weight="bold" textLength="44.4" lengthAdjust="spacing" >2025/10</text>
<text x="29.8" y="934.6" font-family="'Liberation Sans', 'Noto Sans CJK SC', sans-serif" font-size="12.2" font-weight="bold" fill="#ff7608">日线</text>
<path d="M59.8,934 L63.9,926 L68,934 Z" fill="#ff7608"/>
<g shape-rendering="crispEdges">
<rect x="14" y="939" width="1045" height="1" fill="#cdd5dd" />
<rect x="0" y="955" width="1059" height="1" fill="#cdd5dd" />
<rect x="0" y="964" width="1059" height="1" fill="#cdd5dd" />
<rect x="15" y="939" width="39" height="15" fill="#ff6600" />
<rect x="54" y="940" width="1" height="15" fill="#cdd5dd" />
<rect x="94" y="940" width="1" height="15" fill="#cdd5dd" />
<rect x="152" y="940" width="1" height="15" fill="#cdd5dd" />
<rect x="180" y="940" width="1" height="15" fill="#cdd5dd" />
<rect x="220" y="940" width="1" height="15" fill="#cdd5dd" />
<rect x="260" y="940" width="1" height="15" fill="#cdd5dd" />
<rect x="294" y="940" width="1" height="15" fill="#cdd5dd" />
<rect x="334" y="940" width="1" height="15" fill="#cdd5dd" />
<rect x="368" y="940" width="1" height="15" fill="#cdd5dd" />
<rect x="402" y="940" width="1" height="15" fill="#cdd5dd" />
<rect x="442" y="940" width="1" height="15" fill="#cdd5dd" />
<rect x="476" y="940" width="1" height="15" fill="#cdd5dd" />
<rect x="504" y="940" width="1" height="15" fill="#cdd5dd" />
<rect x="538" y="940" width="1" height="15" fill="#cdd5dd" />
<rect x="578" y="940" width="1" height="15" fill="#cdd5dd" />
<rect x="737" y="956" width="180" height="8" fill="#b5b5bb" />
<rect x="41" y="965" width="1" height="15" fill="#cdd5dd" />
</g>
<path d="M815.6,962.8 L827,957 L838.4,962.8 Z" fill="#6e6e72"/>
<text x="22.8" y="951.3" font-family="'Liberation Sans', 'Noto Sans CJK SC', sans-serif" font-size="11.7" fill="#fff">指标</text>
<text x="62.8" y="951.3" font-family="'Liberation Sans', 'Noto Sans CJK SC', sans-serif" font-size="11.7" fill="#1c2430">模板</text>
<text x="103.2" y="950.7" font-family="Liberation Mono" font-size="11.3" fill="#ff7608" textLength="18" lengthAdjust="spacingAndGlyphs" >VIP</text>
<text x="121" y="951.3" font-family="'Liberation Sans', 'Noto Sans CJK SC', sans-serif" font-size="11.7" fill="#ff7608">指标</text>
<text x="160.5" y="950.7" font-family="Liberation Mono" font-size="11.3" fill="#1c2430" textLength="12" lengthAdjust="spacingAndGlyphs" >MA</text>
<text x="188.5" y="950.7" font-family="Liberation Mono" font-size="11.3" fill="#1c2430" textLength="24" lengthAdjust="spacingAndGlyphs" >MACD</text>
<text x="228.5" y="950.7" font-family="Liberation Mono" font-size="11.3" fill="#1c2430" textLength="24" lengthAdjust="spacingAndGlyphs" >BOLL</text>
<text x="268.8" y="950.7" font-family="Liberation Mono" font-size="11.3" fill="#1c2430" textLength="18" lengthAdjust="spacingAndGlyphs" >VOL</text>
<text x="302.8" y="950.7" font-family="Liberation Mono" font-size="11.3" fill="#1c2430" textLength="24" lengthAdjust="spacingAndGlyphs" >BIAS</text>
<text x="342.4" y="950.7" font-family="Liberation Mono" font-size="11.3" fill="#1c2430" textLength="18" lengthAdjust="spacingAndGlyphs" >CCI</text>
<text x="377" y="950.7" font-family="Liberation Mono" font-size="11.3" fill="#1c2430" textLength="18" lengthAdjust="spacingAndGlyphs" >KDJ</text>
<text x="410.8" y="950.7" font-family="Liberation Mono" font-size="11.3" fill="#1c2430" textLength="18" lengthAdjust="spacingAndGlyphs" >LW&amp;</text>
<text x="450.8" y="950.7" font-family="Liberation Mono" font-size="11.3" fill="#1c2430" textLength="18" lengthAdjust="spacingAndGlyphs" >RSI</text>
<text x="484.6" y="950.7" font-family="Liberation Mono" font-size="11.3" fill="#1c2430" textLength="12" lengthAdjust="spacingAndGlyphs" >CR</text>
<text x="512.4" y="950.7" font-family="Liberation Mono" font-size="11.3" fill="#1c2430" textLength="18" lengthAdjust="spacingAndGlyphs" >PSY</text>
<text x="546.8" y="951.3" font-family="'Liberation Sans', 'Noto Sans CJK SC', sans-serif" font-size="11.7" fill="#1c2430">设置</text>
<text x="7.2" y="978.4" font-family="'Liberation Sans', 'Noto Sans CJK SC', sans-serif" font-size="11.7" fill="#1c2430">资讯</text>
<text x="932.8" y="956" font-family="Liberation Sans" font-size="31" fill="#b89c8c" fill-opacity="0.55" textLength="97" lengthAdjust="spacing">FX678</text>
<text x="931.4" y="955" font-family="Liberation Sans" font-size="31" fill="#d7e5f6" textLength="97" lengthAdjust="spacing">FX678</text>
</svg>
</body></html>
